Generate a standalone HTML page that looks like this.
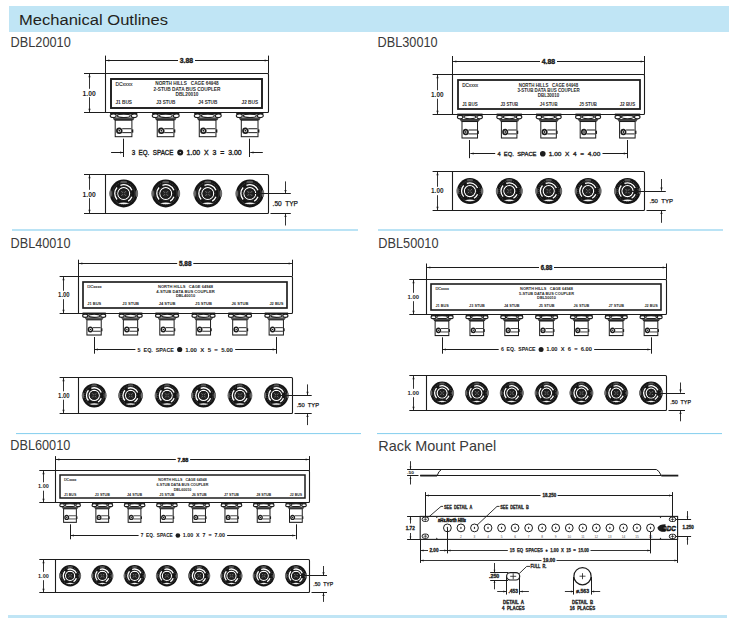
<!DOCTYPE html>
<html><head><meta charset="utf-8"><style>
html,body{margin:0;padding:0;background:#fff;width:732px;height:618px;overflow:hidden;}
svg{display:block;font-family:"Liberation Sans",sans-serif;}
</style></head><body>
<svg width="732" height="618" viewBox="0 0 732 618">
<rect x="9" y="6" width="720" height="26" fill="#c0e5f5"/>
<text xml:space="preserve" x="19.00" y="25.00" font-size="15.40" font-weight="normal" text-anchor="start" fill="#231f20" font-family="Liberation Sans" textLength="149.00" lengthAdjust="spacingAndGlyphs">Mechanical Outlines</text>
<text xml:space="preserve" x="10.60" y="47.00" font-size="14.20" font-weight="normal" text-anchor="start" fill="#3a3a3a" font-family="Liberation Sans" textLength="60.20" lengthAdjust="spacingAndGlyphs">DBL20010</text>
<text xml:space="preserve" x="377.60" y="47.00" font-size="14.20" font-weight="normal" text-anchor="start" fill="#3a3a3a" font-family="Liberation Sans" textLength="60.00" lengthAdjust="spacingAndGlyphs">DBL30010</text>
<text xml:space="preserve" x="10.50" y="248.00" font-size="14.20" font-weight="normal" text-anchor="start" fill="#3a3a3a" font-family="Liberation Sans" textLength="60.00" lengthAdjust="spacingAndGlyphs">DBL40010</text>
<text xml:space="preserve" x="378.30" y="248.00" font-size="14.20" font-weight="normal" text-anchor="start" fill="#3a3a3a" font-family="Liberation Sans" textLength="60.20" lengthAdjust="spacingAndGlyphs">DBL50010</text>
<text xml:space="preserve" x="10.30" y="450.00" font-size="14.20" font-weight="normal" text-anchor="start" fill="#3a3a3a" font-family="Liberation Sans" textLength="60.00" lengthAdjust="spacingAndGlyphs">DBL60010</text>
<text xml:space="preserve" x="378.30" y="450.60" font-size="14.20" font-weight="normal" text-anchor="start" fill="#3a3a3a" font-family="Liberation Sans" textLength="118.00" lengthAdjust="spacingAndGlyphs">Rack Mount Panel</text>
<rect x="12" y="229" width="346" height="2" fill="#bae3f5"/>
<rect x="378" y="229" width="345" height="2" fill="#bae3f5"/>
<rect x="16" y="433" width="345" height="1.1" fill="#8ed2ef"/>
<rect x="377" y="433" width="345" height="1.1" fill="#8ed2ef"/>
<rect x="8" y="615" width="719" height="3" fill="#c0e5f5"/>
<line x1="105.50" y1="55.60" x2="105.50" y2="73.60" stroke="#1c1c1c" stroke-width="1.0"/>
<line x1="268.50" y1="55.60" x2="268.50" y2="73.60" stroke="#1c1c1c" stroke-width="1.0"/>
<line x1="178.00" y1="60.50" x2="106.10" y2="60.50" stroke="#1c1c1c" stroke-width="1.0"/>
<path d="M106.10,60.50 L109.30,59.40 L109.30,61.60 Z" fill="#1c1c1c"/>
<line x1="195.00" y1="60.50" x2="267.90" y2="60.50" stroke="#1c1c1c" stroke-width="1.0"/>
<path d="M267.90,60.50 L264.70,59.40 L264.70,61.60 Z" fill="#1c1c1c"/>
<text xml:space="preserve" x="179.80" y="62.80" font-size="7.54" font-weight="bold" text-anchor="start" fill="#1c1c1c" font-family="Liberation Sans" textLength="13.40" lengthAdjust="spacingAndGlyphs" stroke="#1c1c1c" stroke-width="0.4">3.88</text>
<path d="M105.50,73.50 L267.50,73.50 Q268.50,73.50 268.50,74.50 L268.50,111.50 Q268.50,112.50 267.50,112.50 L105.50,112.50 Z" fill="none" stroke="#1c1c1c" stroke-width="1.1"/>
<line x1="84.00" y1="73.50" x2="105.50" y2="73.50" stroke="#1c1c1c" stroke-width="1.0"/>
<line x1="84.00" y1="112.50" x2="105.50" y2="112.50" stroke="#1c1c1c" stroke-width="1.0"/>
<line x1="89.50" y1="88.80" x2="89.50" y2="74.00" stroke="#1c1c1c" stroke-width="0.9"/>
<path d="M89.50,74.00 L88.40,77.20 L90.60,77.20 Z" fill="#1c1c1c"/>
<line x1="89.50" y1="97.20" x2="89.50" y2="112.00" stroke="#1c1c1c" stroke-width="0.9"/>
<path d="M89.50,112.00 L88.40,108.80 L90.60,108.80 Z" fill="#1c1c1c"/>
<text xml:space="preserve" x="82.60" y="95.55" font-size="7.39" font-weight="bold" text-anchor="start" fill="#1c1c1c" font-family="Liberation Sans" textLength="13.20" lengthAdjust="spacingAndGlyphs">1.00</text>
<rect x="111.00" y="79.00" width="151.00" height="29.00" fill="none" stroke="#1c1c1c" stroke-width="1.90"/>
<text xml:space="preserve" x="155.30" y="85.38" font-size="4.86" font-weight="bold" text-anchor="start" fill="#2a2a2a" font-family="Liberation Sans" textLength="63.40" lengthAdjust="spacingAndGlyphs">NORTH HILLS   CAGE 64948</text>
<text xml:space="preserve" x="153.50" y="90.97" font-size="4.86" font-weight="bold" text-anchor="start" fill="#2a2a2a" font-family="Liberation Sans" textLength="67.00" lengthAdjust="spacingAndGlyphs">2-STUB DATA BUS COUPLER</text>
<text xml:space="preserve" x="175.50" y="96.17" font-size="4.86" font-weight="bold" text-anchor="start" fill="#2a2a2a" font-family="Liberation Sans" textLength="23.00" lengthAdjust="spacingAndGlyphs">DBL20010</text>
<text xml:space="preserve" x="115.40" y="85.67" font-size="4.86" font-weight="normal" text-anchor="start" fill="#1c1c1c" font-family="Liberation Sans" textLength="17.00" lengthAdjust="spacingAndGlyphs" stroke="#1c1c1c" stroke-width="0.12">DCxxxx</text>
<text xml:space="preserve" x="115.40" y="104.38" font-size="4.86" font-weight="bold" text-anchor="start" fill="#2a2a2a" font-family="Liberation Sans" textLength="16.60" lengthAdjust="spacingAndGlyphs">J1 BUS</text>
<text xml:space="preserve" x="156.23" y="104.38" font-size="4.86" font-weight="bold" text-anchor="start" fill="#2a2a2a" font-family="Liberation Sans" textLength="19.00" lengthAdjust="spacingAndGlyphs">J3 STUB</text>
<text xml:space="preserve" x="198.27" y="104.38" font-size="4.86" font-weight="bold" text-anchor="start" fill="#2a2a2a" font-family="Liberation Sans" textLength="19.00" lengthAdjust="spacingAndGlyphs">J4 STUB</text>
<text xml:space="preserve" x="241.50" y="104.38" font-size="4.86" font-weight="bold" text-anchor="start" fill="#2a2a2a" font-family="Liberation Sans" textLength="16.60" lengthAdjust="spacingAndGlyphs">J2 BUS</text>
<g transform="translate(123.70,112.80) scale(1.0000,1.0000)">
<rect x="-13.6" y="-0.5" width="27.2" height="2.2" fill="#1c1c1c"/>
<ellipse cx="-10.5" cy="3.0" rx="3.0" ry="1.75" fill="#fff" stroke="#1c1c1c" stroke-width="1.05"/>
<ellipse cx="0" cy="3.0" rx="6.6" ry="1.7" fill="#fff" stroke="#1c1c1c" stroke-width="1.05"/>
<ellipse cx="10.5" cy="3.0" rx="3.0" ry="1.75" fill="#fff" stroke="#1c1c1c" stroke-width="1.05"/>
<path d="M-11,4.8 L11,4.8 L9.6,7.4 L-9.6,7.4 Z" fill="#222"/>
<path d="M-10.4,6.0 L10.4,6.0" stroke="#8a8a8a" stroke-width="0.6"/>
<rect x="-8.5" y="7.4" width="16.7" height="16.5" fill="#fff" stroke="#1c1c1c" stroke-width="1.00"/>
<line x1="-1.5" y1="15.9" x2="7.6" y2="15.9" stroke="#333" stroke-width="1.1"/>
<line x1="-1.5" y1="19.8" x2="7.6" y2="19.8" stroke="#333" stroke-width="1.1"/>
<rect x="8.2" y="16.6" width="1.4" height="3.2" fill="#1c1c1c"/>
<circle cx="-4.4" cy="17.9" r="2.4" fill="#fff" stroke="#1c1c1c" stroke-width="1.7"/>
<circle cx="-4.4" cy="17.9" r="0.9" fill="#1c1c1c"/>
</g>
<g transform="translate(165.73,112.80) scale(1.0000,1.0000)">
<rect x="-13.6" y="-0.5" width="27.2" height="2.2" fill="#1c1c1c"/>
<ellipse cx="-10.5" cy="3.0" rx="3.0" ry="1.75" fill="#fff" stroke="#1c1c1c" stroke-width="1.05"/>
<ellipse cx="0" cy="3.0" rx="6.6" ry="1.7" fill="#fff" stroke="#1c1c1c" stroke-width="1.05"/>
<ellipse cx="10.5" cy="3.0" rx="3.0" ry="1.75" fill="#fff" stroke="#1c1c1c" stroke-width="1.05"/>
<path d="M-11,4.8 L11,4.8 L9.6,7.4 L-9.6,7.4 Z" fill="#222"/>
<path d="M-10.4,6.0 L10.4,6.0" stroke="#8a8a8a" stroke-width="0.6"/>
<rect x="-8.5" y="7.4" width="16.7" height="16.5" fill="#fff" stroke="#1c1c1c" stroke-width="1.00"/>
<line x1="-1.5" y1="15.9" x2="7.6" y2="15.9" stroke="#333" stroke-width="1.1"/>
<line x1="-1.5" y1="19.8" x2="7.6" y2="19.8" stroke="#333" stroke-width="1.1"/>
<rect x="8.2" y="16.6" width="1.4" height="3.2" fill="#1c1c1c"/>
<circle cx="-4.4" cy="17.9" r="2.4" fill="#fff" stroke="#1c1c1c" stroke-width="1.7"/>
<circle cx="-4.4" cy="17.9" r="0.9" fill="#1c1c1c"/>
</g>
<g transform="translate(207.77,112.80) scale(1.0000,1.0000)">
<rect x="-13.6" y="-0.5" width="27.2" height="2.2" fill="#1c1c1c"/>
<ellipse cx="-10.5" cy="3.0" rx="3.0" ry="1.75" fill="#fff" stroke="#1c1c1c" stroke-width="1.05"/>
<ellipse cx="0" cy="3.0" rx="6.6" ry="1.7" fill="#fff" stroke="#1c1c1c" stroke-width="1.05"/>
<ellipse cx="10.5" cy="3.0" rx="3.0" ry="1.75" fill="#fff" stroke="#1c1c1c" stroke-width="1.05"/>
<path d="M-11,4.8 L11,4.8 L9.6,7.4 L-9.6,7.4 Z" fill="#222"/>
<path d="M-10.4,6.0 L10.4,6.0" stroke="#8a8a8a" stroke-width="0.6"/>
<rect x="-8.5" y="7.4" width="16.7" height="16.5" fill="#fff" stroke="#1c1c1c" stroke-width="1.00"/>
<line x1="-1.5" y1="15.9" x2="7.6" y2="15.9" stroke="#333" stroke-width="1.1"/>
<line x1="-1.5" y1="19.8" x2="7.6" y2="19.8" stroke="#333" stroke-width="1.1"/>
<rect x="8.2" y="16.6" width="1.4" height="3.2" fill="#1c1c1c"/>
<circle cx="-4.4" cy="17.9" r="2.4" fill="#fff" stroke="#1c1c1c" stroke-width="1.7"/>
<circle cx="-4.4" cy="17.9" r="0.9" fill="#1c1c1c"/>
</g>
<g transform="translate(249.80,112.80) scale(1.0000,1.0000)">
<rect x="-13.6" y="-0.5" width="27.2" height="2.2" fill="#1c1c1c"/>
<ellipse cx="-10.5" cy="3.0" rx="3.0" ry="1.75" fill="#fff" stroke="#1c1c1c" stroke-width="1.05"/>
<ellipse cx="0" cy="3.0" rx="6.6" ry="1.7" fill="#fff" stroke="#1c1c1c" stroke-width="1.05"/>
<ellipse cx="10.5" cy="3.0" rx="3.0" ry="1.75" fill="#fff" stroke="#1c1c1c" stroke-width="1.05"/>
<path d="M-11,4.8 L11,4.8 L9.6,7.4 L-9.6,7.4 Z" fill="#222"/>
<path d="M-10.4,6.0 L10.4,6.0" stroke="#8a8a8a" stroke-width="0.6"/>
<rect x="-8.5" y="7.4" width="16.7" height="16.5" fill="#fff" stroke="#1c1c1c" stroke-width="1.00"/>
<line x1="-1.5" y1="15.9" x2="7.6" y2="15.9" stroke="#333" stroke-width="1.1"/>
<line x1="-1.5" y1="19.8" x2="7.6" y2="19.8" stroke="#333" stroke-width="1.1"/>
<rect x="8.2" y="16.6" width="1.4" height="3.2" fill="#1c1c1c"/>
<circle cx="-4.4" cy="17.9" r="2.4" fill="#fff" stroke="#1c1c1c" stroke-width="1.7"/>
<circle cx="-4.4" cy="17.9" r="0.9" fill="#1c1c1c"/>
</g>
<line x1="123.50" y1="138.70" x2="123.50" y2="157.00" stroke="#1c1c1c" stroke-width="1.0"/>
<line x1="249.50" y1="138.70" x2="249.50" y2="157.00" stroke="#1c1c1c" stroke-width="1.0"/>
<line x1="111.10" y1="152.50" x2="123.20" y2="152.50" stroke="#1c1c1c" stroke-width="1.0"/>
<path d="M123.20,152.50 L120.00,151.40 L120.00,153.60 Z" fill="#1c1c1c"/>
<line x1="262.80" y1="152.50" x2="250.30" y2="152.50" stroke="#1c1c1c" stroke-width="1.0"/>
<path d="M250.30,152.50 L253.50,151.40 L253.50,153.60 Z" fill="#1c1c1c"/>
<text xml:space="preserve" x="131.70" y="154.90" font-size="6.67" font-weight="normal" text-anchor="start" fill="#1c1c1c" font-family="Liberation Sans" textLength="41.80" lengthAdjust="spacingAndGlyphs" stroke="#1c1c1c" stroke-width="0.32">3  EQ.  SPACE</text>
<text xml:space="preserve" x="186.59" y="154.90" font-size="6.67" font-weight="normal" text-anchor="start" fill="#1c1c1c" font-family="Liberation Sans" textLength="55.11" lengthAdjust="spacingAndGlyphs" stroke="#1c1c1c" stroke-width="0.32">1.00  X  3  =  3.00</text>
<circle cx="180.21" cy="152.60" r="3.00" fill="#1c1c1c"/>
<circle cx="180.21" cy="152.60" r="0.70" fill="#fff"/>
<path d="M105.50,174.50 L267.50,174.50 Q268.50,174.50 268.50,175.50 L268.50,212.50 Q268.50,213.50 267.50,213.50 L105.50,213.50 Z" fill="none" stroke="#1c1c1c" stroke-width="1.1"/>
<line x1="84.00" y1="174.50" x2="105.50" y2="174.50" stroke="#1c1c1c" stroke-width="1.0"/>
<line x1="84.00" y1="213.50" x2="105.50" y2="213.50" stroke="#1c1c1c" stroke-width="1.0"/>
<line x1="89.50" y1="189.80" x2="89.50" y2="175.00" stroke="#1c1c1c" stroke-width="0.9"/>
<path d="M89.50,175.00 L88.40,178.20 L90.60,178.20 Z" fill="#1c1c1c"/>
<line x1="89.50" y1="198.20" x2="89.50" y2="213.00" stroke="#1c1c1c" stroke-width="0.9"/>
<path d="M89.50,213.00 L88.40,209.80 L90.60,209.80 Z" fill="#1c1c1c"/>
<text xml:space="preserve" x="82.60" y="196.55" font-size="7.39" font-weight="bold" text-anchor="start" fill="#1c1c1c" font-family="Liberation Sans" textLength="13.20" lengthAdjust="spacingAndGlyphs">1.00</text>
<g transform="translate(123.70,193.50) scale(0.9929)">
<circle r="14" fill="#141414"/>
<ellipse cx="-13.2" cy="0" rx="1.3" ry="3.6" fill="#6a6a6a"/>
<ellipse cx="13.2" cy="0" rx="1.3" ry="3.6" fill="#6a6a6a"/>
<ellipse cx="0" cy="-11.6" rx="3.4" ry="1.3" fill="#555"/>
<circle r="11.2" fill="none" stroke="#5c5c5c" stroke-width="0.81" stroke-dasharray="1.01,1.11"/>
<circle r="7.3" fill="none" stroke="#4a4a4a" stroke-width="0.60" stroke-dasharray="0.91,1.21"/>
<path d="M-6.69,6.02 A9.0,9.0 0 0,1 -6.69,-6.02" stroke="#fff" stroke-width="1.31" fill="none"/>
<path d="M-3.33,-8.25 A8.9,8.9 0 0,1 8.25,-3.33" stroke="#fff" stroke-width="1.31" fill="none"/>
<path d="M8.25,3.33 A8.9,8.9 0 0,1 4.45,7.71" stroke="#fff" stroke-width="1.31" fill="none"/>
<path d="M-5.6,9.9 Q0,8.3 5.6,9.9 Q0,11.9 -5.6,9.9 Z" fill="#f4f4f4"/>
<circle r="5.9" fill="none" stroke="#fff" stroke-width="1.21"/>
<circle r="5.30" fill="#1c1c1c"/>
<circle r="3.2" fill="#262626"/>
<path d="M-2.4,-2.4 L2.4,2.4 M2.4,-2.4 L-2.4,2.4" stroke="#8a8a8a" stroke-width="0.71"/>
<circle r="1.0" fill="#222"/>
</g>
<g transform="translate(165.73,193.50) scale(0.9929)">
<circle r="14" fill="#141414"/>
<ellipse cx="-13.2" cy="0" rx="1.3" ry="3.6" fill="#6a6a6a"/>
<ellipse cx="13.2" cy="0" rx="1.3" ry="3.6" fill="#6a6a6a"/>
<ellipse cx="0" cy="-11.6" rx="3.4" ry="1.3" fill="#555"/>
<circle r="11.2" fill="none" stroke="#5c5c5c" stroke-width="0.81" stroke-dasharray="1.01,1.11"/>
<circle r="7.3" fill="none" stroke="#4a4a4a" stroke-width="0.60" stroke-dasharray="0.91,1.21"/>
<path d="M-6.69,6.02 A9.0,9.0 0 0,1 -6.69,-6.02" stroke="#fff" stroke-width="1.31" fill="none"/>
<path d="M-3.33,-8.25 A8.9,8.9 0 0,1 8.25,-3.33" stroke="#fff" stroke-width="1.31" fill="none"/>
<path d="M8.25,3.33 A8.9,8.9 0 0,1 4.45,7.71" stroke="#fff" stroke-width="1.31" fill="none"/>
<path d="M-5.6,9.9 Q0,8.3 5.6,9.9 Q0,11.9 -5.6,9.9 Z" fill="#f4f4f4"/>
<circle r="5.9" fill="none" stroke="#fff" stroke-width="1.21"/>
<circle r="5.30" fill="#1c1c1c"/>
<circle r="3.2" fill="#262626"/>
<path d="M-2.4,-2.4 L2.4,2.4 M2.4,-2.4 L-2.4,2.4" stroke="#8a8a8a" stroke-width="0.71"/>
<circle r="1.0" fill="#222"/>
</g>
<g transform="translate(207.77,193.50) scale(0.9929)">
<circle r="14" fill="#141414"/>
<ellipse cx="-13.2" cy="0" rx="1.3" ry="3.6" fill="#6a6a6a"/>
<ellipse cx="13.2" cy="0" rx="1.3" ry="3.6" fill="#6a6a6a"/>
<ellipse cx="0" cy="-11.6" rx="3.4" ry="1.3" fill="#555"/>
<circle r="11.2" fill="none" stroke="#5c5c5c" stroke-width="0.81" stroke-dasharray="1.01,1.11"/>
<circle r="7.3" fill="none" stroke="#4a4a4a" stroke-width="0.60" stroke-dasharray="0.91,1.21"/>
<path d="M-6.69,6.02 A9.0,9.0 0 0,1 -6.69,-6.02" stroke="#fff" stroke-width="1.31" fill="none"/>
<path d="M-3.33,-8.25 A8.9,8.9 0 0,1 8.25,-3.33" stroke="#fff" stroke-width="1.31" fill="none"/>
<path d="M8.25,3.33 A8.9,8.9 0 0,1 4.45,7.71" stroke="#fff" stroke-width="1.31" fill="none"/>
<path d="M-5.6,9.9 Q0,8.3 5.6,9.9 Q0,11.9 -5.6,9.9 Z" fill="#f4f4f4"/>
<circle r="5.9" fill="none" stroke="#fff" stroke-width="1.21"/>
<circle r="5.30" fill="#1c1c1c"/>
<circle r="3.2" fill="#262626"/>
<path d="M-2.4,-2.4 L2.4,2.4 M2.4,-2.4 L-2.4,2.4" stroke="#8a8a8a" stroke-width="0.71"/>
<circle r="1.0" fill="#222"/>
</g>
<g transform="translate(249.80,193.50) scale(0.9929)">
<circle r="14" fill="#141414"/>
<ellipse cx="-13.2" cy="0" rx="1.3" ry="3.6" fill="#6a6a6a"/>
<ellipse cx="13.2" cy="0" rx="1.3" ry="3.6" fill="#6a6a6a"/>
<ellipse cx="0" cy="-11.6" rx="3.4" ry="1.3" fill="#555"/>
<circle r="11.2" fill="none" stroke="#5c5c5c" stroke-width="0.81" stroke-dasharray="1.01,1.11"/>
<circle r="7.3" fill="none" stroke="#4a4a4a" stroke-width="0.60" stroke-dasharray="0.91,1.21"/>
<path d="M-6.69,6.02 A9.0,9.0 0 0,1 -6.69,-6.02" stroke="#fff" stroke-width="1.31" fill="none"/>
<path d="M-3.33,-8.25 A8.9,8.9 0 0,1 8.25,-3.33" stroke="#fff" stroke-width="1.31" fill="none"/>
<path d="M8.25,3.33 A8.9,8.9 0 0,1 4.45,7.71" stroke="#fff" stroke-width="1.31" fill="none"/>
<path d="M-5.6,9.9 Q0,8.3 5.6,9.9 Q0,11.9 -5.6,9.9 Z" fill="#f4f4f4"/>
<circle r="5.9" fill="none" stroke="#fff" stroke-width="1.21"/>
<circle r="5.30" fill="#1c1c1c"/>
<circle r="3.2" fill="#262626"/>
<path d="M-2.4,-2.4 L2.4,2.4 M2.4,-2.4 L-2.4,2.4" stroke="#8a8a8a" stroke-width="0.71"/>
<circle r="1.0" fill="#222"/>
</g>
<line x1="249.80" y1="193.50" x2="290.80" y2="193.50" stroke="#1c1c1c" stroke-width="1.0"/>
<line x1="270.50" y1="213.50" x2="290.80" y2="213.50" stroke="#1c1c1c" stroke-width="1.0"/>
<line x1="285.50" y1="181.40" x2="285.50" y2="193.10" stroke="#1c1c1c" stroke-width="0.9"/>
<path d="M285.50,193.10 L284.40,189.90 L286.60,189.90 Z" fill="#1c1c1c"/>
<line x1="285.50" y1="225.50" x2="285.50" y2="213.90" stroke="#1c1c1c" stroke-width="0.9"/>
<path d="M285.50,213.90 L284.40,217.10 L286.60,217.10 Z" fill="#1c1c1c"/>
<text xml:space="preserve" x="272.60" y="205.95" font-size="6.52" font-weight="normal" text-anchor="start" fill="#1c1c1c" font-family="Liberation Sans" textLength="25.40" lengthAdjust="spacingAndGlyphs" stroke="#1c1c1c" stroke-width="0.25">.50  TYP</text>
<line x1="452.50" y1="56.00" x2="452.50" y2="74.90" stroke="#1c1c1c" stroke-width="1.0"/>
<line x1="644.50" y1="56.00" x2="644.50" y2="74.90" stroke="#1c1c1c" stroke-width="1.0"/>
<line x1="540.00" y1="61.50" x2="453.10" y2="61.50" stroke="#1c1c1c" stroke-width="1.0"/>
<path d="M453.10,61.50 L456.30,60.40 L456.30,62.60 Z" fill="#1c1c1c"/>
<line x1="557.00" y1="61.50" x2="643.90" y2="61.50" stroke="#1c1c1c" stroke-width="1.0"/>
<path d="M643.90,61.50 L640.70,60.40 L640.70,62.60 Z" fill="#1c1c1c"/>
<text xml:space="preserve" x="541.80" y="63.64" font-size="7.07" font-weight="bold" text-anchor="start" fill="#1c1c1c" font-family="Liberation Sans" textLength="13.40" lengthAdjust="spacingAndGlyphs" stroke="#1c1c1c" stroke-width="0.4">4.88</text>
<path d="M452.50,74.50 L643.50,74.50 Q644.50,74.50 644.50,75.50 L644.50,113.50 Q644.50,114.50 643.50,114.50 L452.50,114.50 Z" fill="none" stroke="#1c1c1c" stroke-width="1.1"/>
<line x1="432.60" y1="74.50" x2="452.50" y2="74.50" stroke="#1c1c1c" stroke-width="1.0"/>
<line x1="432.60" y1="114.50" x2="452.50" y2="114.50" stroke="#1c1c1c" stroke-width="1.0"/>
<line x1="437.50" y1="90.30" x2="437.50" y2="75.00" stroke="#1c1c1c" stroke-width="0.9"/>
<path d="M437.50,75.00 L436.40,78.20 L438.60,78.20 Z" fill="#1c1c1c"/>
<line x1="437.50" y1="98.70" x2="437.50" y2="114.00" stroke="#1c1c1c" stroke-width="0.9"/>
<path d="M437.50,114.00 L436.40,110.80 L438.60,110.80 Z" fill="#1c1c1c"/>
<text xml:space="preserve" x="431.05" y="96.88" font-size="6.88" font-weight="bold" text-anchor="start" fill="#1c1c1c" font-family="Liberation Sans" textLength="12.50" lengthAdjust="spacingAndGlyphs">1.00</text>
<rect x="458.00" y="80.00" width="182.00" height="29.00" fill="none" stroke="#1c1c1c" stroke-width="1.78"/>
<text xml:space="preserve" x="518.75" y="86.77" font-size="4.55" font-weight="bold" text-anchor="start" fill="#2a2a2a" font-family="Liberation Sans" textLength="59.50" lengthAdjust="spacingAndGlyphs">NORTH HILLS   CAGE 64948</text>
<text xml:space="preserve" x="517.40" y="91.87" font-size="4.55" font-weight="bold" text-anchor="start" fill="#2a2a2a" font-family="Liberation Sans" textLength="62.20" lengthAdjust="spacingAndGlyphs">3-STUB DATA BUS COUPLER</text>
<text xml:space="preserve" x="537.80" y="97.37" font-size="4.55" font-weight="bold" text-anchor="start" fill="#2a2a2a" font-family="Liberation Sans" textLength="21.40" lengthAdjust="spacingAndGlyphs">DBL30010</text>
<text xml:space="preserve" x="462.15" y="86.97" font-size="4.55" font-weight="normal" text-anchor="start" fill="#1c1c1c" font-family="Liberation Sans" textLength="16.00" lengthAdjust="spacingAndGlyphs" stroke="#1c1c1c" stroke-width="0.12">DCxxxx</text>
<text xml:space="preserve" x="462.15" y="105.57" font-size="4.55" font-weight="bold" text-anchor="start" fill="#2a2a2a" font-family="Liberation Sans" textLength="15.50" lengthAdjust="spacingAndGlyphs">J1 BUS</text>
<text xml:space="preserve" x="500.45" y="105.57" font-size="4.55" font-weight="bold" text-anchor="start" fill="#2a2a2a" font-family="Liberation Sans" textLength="17.70" lengthAdjust="spacingAndGlyphs">J3 STUB</text>
<text xml:space="preserve" x="539.85" y="105.57" font-size="4.55" font-weight="bold" text-anchor="start" fill="#2a2a2a" font-family="Liberation Sans" textLength="17.70" lengthAdjust="spacingAndGlyphs">J4 STUB</text>
<text xml:space="preserve" x="579.25" y="105.57" font-size="4.55" font-weight="bold" text-anchor="start" fill="#2a2a2a" font-family="Liberation Sans" textLength="17.70" lengthAdjust="spacingAndGlyphs">J5 STUB</text>
<text xml:space="preserve" x="619.75" y="105.57" font-size="4.55" font-weight="bold" text-anchor="start" fill="#2a2a2a" font-family="Liberation Sans" textLength="15.50" lengthAdjust="spacingAndGlyphs">J2 BUS</text>
<g transform="translate(469.90,114.10) scale(0.9300,0.9998)">
<rect x="-13.6" y="-0.5" width="27.2" height="2.2" fill="#1c1c1c"/>
<ellipse cx="-10.5" cy="3.0" rx="3.0" ry="1.75" fill="#fff" stroke="#1c1c1c" stroke-width="1.13"/>
<ellipse cx="0" cy="3.0" rx="6.6" ry="1.7" fill="#fff" stroke="#1c1c1c" stroke-width="1.13"/>
<ellipse cx="10.5" cy="3.0" rx="3.0" ry="1.75" fill="#fff" stroke="#1c1c1c" stroke-width="1.13"/>
<path d="M-11,4.8 L11,4.8 L9.6,7.4 L-9.6,7.4 Z" fill="#222"/>
<path d="M-10.4,6.0 L10.4,6.0" stroke="#8a8a8a" stroke-width="0.6"/>
<rect x="-8.5" y="7.4" width="16.7" height="16.5" fill="#fff" stroke="#1c1c1c" stroke-width="1.08"/>
<line x1="-1.5" y1="15.9" x2="7.6" y2="15.9" stroke="#333" stroke-width="1.1"/>
<line x1="-1.5" y1="19.8" x2="7.6" y2="19.8" stroke="#333" stroke-width="1.1"/>
<rect x="8.2" y="16.6" width="1.4" height="3.2" fill="#1c1c1c"/>
<circle cx="-4.4" cy="17.9" r="2.4" fill="#fff" stroke="#1c1c1c" stroke-width="1.7"/>
<circle cx="-4.4" cy="17.9" r="0.9" fill="#1c1c1c"/>
</g>
<g transform="translate(509.30,114.10) scale(0.9300,0.9998)">
<rect x="-13.6" y="-0.5" width="27.2" height="2.2" fill="#1c1c1c"/>
<ellipse cx="-10.5" cy="3.0" rx="3.0" ry="1.75" fill="#fff" stroke="#1c1c1c" stroke-width="1.13"/>
<ellipse cx="0" cy="3.0" rx="6.6" ry="1.7" fill="#fff" stroke="#1c1c1c" stroke-width="1.13"/>
<ellipse cx="10.5" cy="3.0" rx="3.0" ry="1.75" fill="#fff" stroke="#1c1c1c" stroke-width="1.13"/>
<path d="M-11,4.8 L11,4.8 L9.6,7.4 L-9.6,7.4 Z" fill="#222"/>
<path d="M-10.4,6.0 L10.4,6.0" stroke="#8a8a8a" stroke-width="0.6"/>
<rect x="-8.5" y="7.4" width="16.7" height="16.5" fill="#fff" stroke="#1c1c1c" stroke-width="1.08"/>
<line x1="-1.5" y1="15.9" x2="7.6" y2="15.9" stroke="#333" stroke-width="1.1"/>
<line x1="-1.5" y1="19.8" x2="7.6" y2="19.8" stroke="#333" stroke-width="1.1"/>
<rect x="8.2" y="16.6" width="1.4" height="3.2" fill="#1c1c1c"/>
<circle cx="-4.4" cy="17.9" r="2.4" fill="#fff" stroke="#1c1c1c" stroke-width="1.7"/>
<circle cx="-4.4" cy="17.9" r="0.9" fill="#1c1c1c"/>
</g>
<g transform="translate(548.70,114.10) scale(0.9300,0.9998)">
<rect x="-13.6" y="-0.5" width="27.2" height="2.2" fill="#1c1c1c"/>
<ellipse cx="-10.5" cy="3.0" rx="3.0" ry="1.75" fill="#fff" stroke="#1c1c1c" stroke-width="1.13"/>
<ellipse cx="0" cy="3.0" rx="6.6" ry="1.7" fill="#fff" stroke="#1c1c1c" stroke-width="1.13"/>
<ellipse cx="10.5" cy="3.0" rx="3.0" ry="1.75" fill="#fff" stroke="#1c1c1c" stroke-width="1.13"/>
<path d="M-11,4.8 L11,4.8 L9.6,7.4 L-9.6,7.4 Z" fill="#222"/>
<path d="M-10.4,6.0 L10.4,6.0" stroke="#8a8a8a" stroke-width="0.6"/>
<rect x="-8.5" y="7.4" width="16.7" height="16.5" fill="#fff" stroke="#1c1c1c" stroke-width="1.08"/>
<line x1="-1.5" y1="15.9" x2="7.6" y2="15.9" stroke="#333" stroke-width="1.1"/>
<line x1="-1.5" y1="19.8" x2="7.6" y2="19.8" stroke="#333" stroke-width="1.1"/>
<rect x="8.2" y="16.6" width="1.4" height="3.2" fill="#1c1c1c"/>
<circle cx="-4.4" cy="17.9" r="2.4" fill="#fff" stroke="#1c1c1c" stroke-width="1.7"/>
<circle cx="-4.4" cy="17.9" r="0.9" fill="#1c1c1c"/>
</g>
<g transform="translate(588.10,114.10) scale(0.9300,0.9998)">
<rect x="-13.6" y="-0.5" width="27.2" height="2.2" fill="#1c1c1c"/>
<ellipse cx="-10.5" cy="3.0" rx="3.0" ry="1.75" fill="#fff" stroke="#1c1c1c" stroke-width="1.13"/>
<ellipse cx="0" cy="3.0" rx="6.6" ry="1.7" fill="#fff" stroke="#1c1c1c" stroke-width="1.13"/>
<ellipse cx="10.5" cy="3.0" rx="3.0" ry="1.75" fill="#fff" stroke="#1c1c1c" stroke-width="1.13"/>
<path d="M-11,4.8 L11,4.8 L9.6,7.4 L-9.6,7.4 Z" fill="#222"/>
<path d="M-10.4,6.0 L10.4,6.0" stroke="#8a8a8a" stroke-width="0.6"/>
<rect x="-8.5" y="7.4" width="16.7" height="16.5" fill="#fff" stroke="#1c1c1c" stroke-width="1.08"/>
<line x1="-1.5" y1="15.9" x2="7.6" y2="15.9" stroke="#333" stroke-width="1.1"/>
<line x1="-1.5" y1="19.8" x2="7.6" y2="19.8" stroke="#333" stroke-width="1.1"/>
<rect x="8.2" y="16.6" width="1.4" height="3.2" fill="#1c1c1c"/>
<circle cx="-4.4" cy="17.9" r="2.4" fill="#fff" stroke="#1c1c1c" stroke-width="1.7"/>
<circle cx="-4.4" cy="17.9" r="0.9" fill="#1c1c1c"/>
</g>
<g transform="translate(627.50,114.10) scale(0.9300,0.9998)">
<rect x="-13.6" y="-0.5" width="27.2" height="2.2" fill="#1c1c1c"/>
<ellipse cx="-10.5" cy="3.0" rx="3.0" ry="1.75" fill="#fff" stroke="#1c1c1c" stroke-width="1.13"/>
<ellipse cx="0" cy="3.0" rx="6.6" ry="1.7" fill="#fff" stroke="#1c1c1c" stroke-width="1.13"/>
<ellipse cx="10.5" cy="3.0" rx="3.0" ry="1.75" fill="#fff" stroke="#1c1c1c" stroke-width="1.13"/>
<path d="M-11,4.8 L11,4.8 L9.6,7.4 L-9.6,7.4 Z" fill="#222"/>
<path d="M-10.4,6.0 L10.4,6.0" stroke="#8a8a8a" stroke-width="0.6"/>
<rect x="-8.5" y="7.4" width="16.7" height="16.5" fill="#fff" stroke="#1c1c1c" stroke-width="1.08"/>
<line x1="-1.5" y1="15.9" x2="7.6" y2="15.9" stroke="#333" stroke-width="1.1"/>
<line x1="-1.5" y1="19.8" x2="7.6" y2="19.8" stroke="#333" stroke-width="1.1"/>
<rect x="8.2" y="16.6" width="1.4" height="3.2" fill="#1c1c1c"/>
<circle cx="-4.4" cy="17.9" r="2.4" fill="#fff" stroke="#1c1c1c" stroke-width="1.7"/>
<circle cx="-4.4" cy="17.9" r="0.9" fill="#1c1c1c"/>
</g>
<line x1="469.50" y1="140.00" x2="469.50" y2="158.20" stroke="#1c1c1c" stroke-width="1.0"/>
<line x1="627.50" y1="140.00" x2="627.50" y2="158.20" stroke="#1c1c1c" stroke-width="1.0"/>
<line x1="495.20" y1="153.50" x2="470.40" y2="153.50" stroke="#1c1c1c" stroke-width="1.0"/>
<path d="M470.40,153.50 L473.60,152.40 L473.60,154.60 Z" fill="#1c1c1c"/>
<line x1="602.50" y1="153.50" x2="627.00" y2="153.50" stroke="#1c1c1c" stroke-width="1.0"/>
<path d="M627.00,153.50 L623.80,152.40 L623.80,154.60 Z" fill="#1c1c1c"/>
<text xml:space="preserve" x="497.40" y="155.86" font-size="6.26" font-weight="normal" text-anchor="start" fill="#1c1c1c" font-family="Liberation Sans" textLength="39.10" lengthAdjust="spacingAndGlyphs" stroke="#1c1c1c" stroke-width="0.32">4  EQ.  SPACE</text>
<text xml:space="preserve" x="548.75" y="155.86" font-size="6.26" font-weight="normal" text-anchor="start" fill="#1c1c1c" font-family="Liberation Sans" textLength="51.55" lengthAdjust="spacingAndGlyphs" stroke="#1c1c1c" stroke-width="0.32">1.00  X  4  =  4.00</text>
<circle cx="542.78" cy="153.70" r="2.80" fill="#1c1c1c"/>
<path d="M452.50,171.50 L643.50,171.50 Q644.50,171.50 644.50,172.50 L644.50,209.50 Q644.50,210.50 643.50,210.50 L452.50,210.50 Z" fill="none" stroke="#1c1c1c" stroke-width="1.1"/>
<line x1="432.60" y1="171.50" x2="452.50" y2="171.50" stroke="#1c1c1c" stroke-width="1.0"/>
<line x1="432.60" y1="210.50" x2="452.50" y2="210.50" stroke="#1c1c1c" stroke-width="1.0"/>
<line x1="437.50" y1="186.80" x2="437.50" y2="172.00" stroke="#1c1c1c" stroke-width="0.9"/>
<path d="M437.50,172.00 L436.40,175.20 L438.60,175.20 Z" fill="#1c1c1c"/>
<line x1="437.50" y1="195.20" x2="437.50" y2="210.00" stroke="#1c1c1c" stroke-width="0.9"/>
<path d="M437.50,210.00 L436.40,206.80 L438.60,206.80 Z" fill="#1c1c1c"/>
<text xml:space="preserve" x="431.05" y="193.38" font-size="6.88" font-weight="bold" text-anchor="start" fill="#1c1c1c" font-family="Liberation Sans" textLength="12.50" lengthAdjust="spacingAndGlyphs">1.00</text>
<g transform="translate(469.90,191.10) scale(0.9286)">
<circle r="14" fill="#141414"/>
<ellipse cx="-13.2" cy="0" rx="1.3" ry="3.6" fill="#6a6a6a"/>
<ellipse cx="13.2" cy="0" rx="1.3" ry="3.6" fill="#6a6a6a"/>
<ellipse cx="0" cy="-11.6" rx="3.4" ry="1.3" fill="#555"/>
<circle r="11.2" fill="none" stroke="#5c5c5c" stroke-width="0.86" stroke-dasharray="1.08,1.18"/>
<circle r="7.3" fill="none" stroke="#4a4a4a" stroke-width="0.65" stroke-dasharray="0.97,1.29"/>
<path d="M-6.69,6.02 A9.0,9.0 0 0,1 -6.69,-6.02" stroke="#fff" stroke-width="1.40" fill="none"/>
<path d="M-3.33,-8.25 A8.9,8.9 0 0,1 8.25,-3.33" stroke="#fff" stroke-width="1.40" fill="none"/>
<path d="M8.25,3.33 A8.9,8.9 0 0,1 4.45,7.71" stroke="#fff" stroke-width="1.40" fill="none"/>
<path d="M-5.6,9.9 Q0,8.3 5.6,9.9 Q0,11.9 -5.6,9.9 Z" fill="#f4f4f4"/>
<circle r="5.9" fill="none" stroke="#fff" stroke-width="1.29"/>
<circle r="5.25" fill="#1c1c1c"/>
<circle r="3.2" fill="#262626"/>
<path d="M-2.4,-2.4 L2.4,2.4 M2.4,-2.4 L-2.4,2.4" stroke="#8a8a8a" stroke-width="0.75"/>
<circle r="1.0" fill="#222"/>
</g>
<g transform="translate(509.30,191.10) scale(0.9286)">
<circle r="14" fill="#141414"/>
<ellipse cx="-13.2" cy="0" rx="1.3" ry="3.6" fill="#6a6a6a"/>
<ellipse cx="13.2" cy="0" rx="1.3" ry="3.6" fill="#6a6a6a"/>
<ellipse cx="0" cy="-11.6" rx="3.4" ry="1.3" fill="#555"/>
<circle r="11.2" fill="none" stroke="#5c5c5c" stroke-width="0.86" stroke-dasharray="1.08,1.18"/>
<circle r="7.3" fill="none" stroke="#4a4a4a" stroke-width="0.65" stroke-dasharray="0.97,1.29"/>
<path d="M-6.69,6.02 A9.0,9.0 0 0,1 -6.69,-6.02" stroke="#fff" stroke-width="1.40" fill="none"/>
<path d="M-3.33,-8.25 A8.9,8.9 0 0,1 8.25,-3.33" stroke="#fff" stroke-width="1.40" fill="none"/>
<path d="M8.25,3.33 A8.9,8.9 0 0,1 4.45,7.71" stroke="#fff" stroke-width="1.40" fill="none"/>
<path d="M-5.6,9.9 Q0,8.3 5.6,9.9 Q0,11.9 -5.6,9.9 Z" fill="#f4f4f4"/>
<circle r="5.9" fill="none" stroke="#fff" stroke-width="1.29"/>
<circle r="5.25" fill="#1c1c1c"/>
<circle r="3.2" fill="#262626"/>
<path d="M-2.4,-2.4 L2.4,2.4 M2.4,-2.4 L-2.4,2.4" stroke="#8a8a8a" stroke-width="0.75"/>
<circle r="1.0" fill="#222"/>
</g>
<g transform="translate(548.70,191.10) scale(0.9286)">
<circle r="14" fill="#141414"/>
<ellipse cx="-13.2" cy="0" rx="1.3" ry="3.6" fill="#6a6a6a"/>
<ellipse cx="13.2" cy="0" rx="1.3" ry="3.6" fill="#6a6a6a"/>
<ellipse cx="0" cy="-11.6" rx="3.4" ry="1.3" fill="#555"/>
<circle r="11.2" fill="none" stroke="#5c5c5c" stroke-width="0.86" stroke-dasharray="1.08,1.18"/>
<circle r="7.3" fill="none" stroke="#4a4a4a" stroke-width="0.65" stroke-dasharray="0.97,1.29"/>
<path d="M-6.69,6.02 A9.0,9.0 0 0,1 -6.69,-6.02" stroke="#fff" stroke-width="1.40" fill="none"/>
<path d="M-3.33,-8.25 A8.9,8.9 0 0,1 8.25,-3.33" stroke="#fff" stroke-width="1.40" fill="none"/>
<path d="M8.25,3.33 A8.9,8.9 0 0,1 4.45,7.71" stroke="#fff" stroke-width="1.40" fill="none"/>
<path d="M-5.6,9.9 Q0,8.3 5.6,9.9 Q0,11.9 -5.6,9.9 Z" fill="#f4f4f4"/>
<circle r="5.9" fill="none" stroke="#fff" stroke-width="1.29"/>
<circle r="5.25" fill="#1c1c1c"/>
<circle r="3.2" fill="#262626"/>
<path d="M-2.4,-2.4 L2.4,2.4 M2.4,-2.4 L-2.4,2.4" stroke="#8a8a8a" stroke-width="0.75"/>
<circle r="1.0" fill="#222"/>
</g>
<g transform="translate(588.10,191.10) scale(0.9286)">
<circle r="14" fill="#141414"/>
<ellipse cx="-13.2" cy="0" rx="1.3" ry="3.6" fill="#6a6a6a"/>
<ellipse cx="13.2" cy="0" rx="1.3" ry="3.6" fill="#6a6a6a"/>
<ellipse cx="0" cy="-11.6" rx="3.4" ry="1.3" fill="#555"/>
<circle r="11.2" fill="none" stroke="#5c5c5c" stroke-width="0.86" stroke-dasharray="1.08,1.18"/>
<circle r="7.3" fill="none" stroke="#4a4a4a" stroke-width="0.65" stroke-dasharray="0.97,1.29"/>
<path d="M-6.69,6.02 A9.0,9.0 0 0,1 -6.69,-6.02" stroke="#fff" stroke-width="1.40" fill="none"/>
<path d="M-3.33,-8.25 A8.9,8.9 0 0,1 8.25,-3.33" stroke="#fff" stroke-width="1.40" fill="none"/>
<path d="M8.25,3.33 A8.9,8.9 0 0,1 4.45,7.71" stroke="#fff" stroke-width="1.40" fill="none"/>
<path d="M-5.6,9.9 Q0,8.3 5.6,9.9 Q0,11.9 -5.6,9.9 Z" fill="#f4f4f4"/>
<circle r="5.9" fill="none" stroke="#fff" stroke-width="1.29"/>
<circle r="5.25" fill="#1c1c1c"/>
<circle r="3.2" fill="#262626"/>
<path d="M-2.4,-2.4 L2.4,2.4 M2.4,-2.4 L-2.4,2.4" stroke="#8a8a8a" stroke-width="0.75"/>
<circle r="1.0" fill="#222"/>
</g>
<g transform="translate(627.50,191.10) scale(0.9286)">
<circle r="14" fill="#141414"/>
<ellipse cx="-13.2" cy="0" rx="1.3" ry="3.6" fill="#6a6a6a"/>
<ellipse cx="13.2" cy="0" rx="1.3" ry="3.6" fill="#6a6a6a"/>
<ellipse cx="0" cy="-11.6" rx="3.4" ry="1.3" fill="#555"/>
<circle r="11.2" fill="none" stroke="#5c5c5c" stroke-width="0.86" stroke-dasharray="1.08,1.18"/>
<circle r="7.3" fill="none" stroke="#4a4a4a" stroke-width="0.65" stroke-dasharray="0.97,1.29"/>
<path d="M-6.69,6.02 A9.0,9.0 0 0,1 -6.69,-6.02" stroke="#fff" stroke-width="1.40" fill="none"/>
<path d="M-3.33,-8.25 A8.9,8.9 0 0,1 8.25,-3.33" stroke="#fff" stroke-width="1.40" fill="none"/>
<path d="M8.25,3.33 A8.9,8.9 0 0,1 4.45,7.71" stroke="#fff" stroke-width="1.40" fill="none"/>
<path d="M-5.6,9.9 Q0,8.3 5.6,9.9 Q0,11.9 -5.6,9.9 Z" fill="#f4f4f4"/>
<circle r="5.9" fill="none" stroke="#fff" stroke-width="1.29"/>
<circle r="5.25" fill="#1c1c1c"/>
<circle r="3.2" fill="#262626"/>
<path d="M-2.4,-2.4 L2.4,2.4 M2.4,-2.4 L-2.4,2.4" stroke="#8a8a8a" stroke-width="0.75"/>
<circle r="1.0" fill="#222"/>
</g>
<line x1="627.50" y1="191.50" x2="665.80" y2="191.50" stroke="#1c1c1c" stroke-width="1.0"/>
<line x1="646.50" y1="210.50" x2="665.80" y2="210.50" stroke="#1c1c1c" stroke-width="1.0"/>
<line x1="661.50" y1="179.00" x2="661.50" y2="190.70" stroke="#1c1c1c" stroke-width="0.9"/>
<path d="M661.50,190.70 L660.40,187.50 L662.60,187.50 Z" fill="#1c1c1c"/>
<line x1="661.50" y1="222.80" x2="661.50" y2="210.90" stroke="#1c1c1c" stroke-width="0.9"/>
<path d="M661.50,210.90 L660.40,214.10 L662.60,214.10 Z" fill="#1c1c1c"/>
<text xml:space="preserve" x="649.50" y="203.12" font-size="6.16" font-weight="normal" text-anchor="start" fill="#1c1c1c" font-family="Liberation Sans" textLength="23.50" lengthAdjust="spacingAndGlyphs" stroke="#1c1c1c" stroke-width="0.25">.50  TYP</text>
<line x1="78.50" y1="259.70" x2="78.50" y2="276.50" stroke="#1c1c1c" stroke-width="1.0"/>
<line x1="292.50" y1="259.70" x2="292.50" y2="276.50" stroke="#1c1c1c" stroke-width="1.0"/>
<line x1="177.20" y1="263.50" x2="79.10" y2="263.50" stroke="#1c1c1c" stroke-width="1.0"/>
<path d="M79.10,263.50 L82.30,262.40 L82.30,264.60 Z" fill="#1c1c1c"/>
<line x1="193.30" y1="263.50" x2="291.90" y2="263.50" stroke="#1c1c1c" stroke-width="1.0"/>
<path d="M291.90,263.50 L288.70,262.40 L288.70,264.60 Z" fill="#1c1c1c"/>
<text xml:space="preserve" x="179.00" y="266.17" font-size="6.58" font-weight="bold" text-anchor="start" fill="#1c1c1c" font-family="Liberation Sans" textLength="12.50" lengthAdjust="spacingAndGlyphs" stroke="#1c1c1c" stroke-width="0.4">5.88</text>
<path d="M78.50,276.50 L291.50,276.50 Q292.50,276.50 292.50,277.50 L292.50,312.50 Q292.50,313.50 291.50,313.50 L78.50,313.50 Z" fill="none" stroke="#1c1c1c" stroke-width="1.1"/>
<line x1="59.60" y1="276.50" x2="78.50" y2="276.50" stroke="#1c1c1c" stroke-width="1.0"/>
<line x1="59.60" y1="313.50" x2="78.50" y2="313.50" stroke="#1c1c1c" stroke-width="1.0"/>
<line x1="63.50" y1="290.80" x2="63.50" y2="277.00" stroke="#1c1c1c" stroke-width="0.9"/>
<path d="M63.50,277.00 L62.40,280.20 L64.60,280.20 Z" fill="#1c1c1c"/>
<line x1="63.50" y1="299.20" x2="63.50" y2="313.00" stroke="#1c1c1c" stroke-width="0.9"/>
<path d="M63.50,313.00 L62.40,309.80 L64.60,309.80 Z" fill="#1c1c1c"/>
<text xml:space="preserve" x="58.10" y="297.19" font-size="6.36" font-weight="bold" text-anchor="start" fill="#1c1c1c" font-family="Liberation Sans" textLength="11.60" lengthAdjust="spacingAndGlyphs">1.00</text>
<rect x="83.00" y="282.00" width="204.00" height="26.00" fill="none" stroke="#1c1c1c" stroke-width="1.66"/>
<text xml:space="preserve" x="158.00" y="287.56" font-size="4.23" font-weight="bold" text-anchor="start" fill="#2a2a2a" font-family="Liberation Sans" textLength="55.00" lengthAdjust="spacingAndGlyphs">NORTH HILLS   CAGE 64948</text>
<text xml:space="preserve" x="156.30" y="292.66" font-size="4.23" font-weight="bold" text-anchor="start" fill="#2a2a2a" font-family="Liberation Sans" textLength="58.40" lengthAdjust="spacingAndGlyphs">4-STUB DATA BUS COUPLER</text>
<text xml:space="preserve" x="175.90" y="297.46" font-size="4.23" font-weight="bold" text-anchor="start" fill="#2a2a2a" font-family="Liberation Sans" textLength="19.20" lengthAdjust="spacingAndGlyphs">DBL40010</text>
<text xml:space="preserve" x="87.20" y="287.96" font-size="4.23" font-weight="normal" text-anchor="start" fill="#1c1c1c" font-family="Liberation Sans" textLength="14.50" lengthAdjust="spacingAndGlyphs" stroke="#1c1c1c" stroke-width="0.12">DCxxxx</text>
<text xml:space="preserve" x="87.20" y="304.86" font-size="4.23" font-weight="bold" text-anchor="start" fill="#2a2a2a" font-family="Liberation Sans" textLength="14.00" lengthAdjust="spacingAndGlyphs">J1 BUS</text>
<text xml:space="preserve" x="122.24" y="304.86" font-size="4.23" font-weight="bold" text-anchor="start" fill="#2a2a2a" font-family="Liberation Sans" textLength="16.80" lengthAdjust="spacingAndGlyphs">J3 STUB</text>
<text xml:space="preserve" x="158.68" y="304.86" font-size="4.23" font-weight="bold" text-anchor="start" fill="#2a2a2a" font-family="Liberation Sans" textLength="16.80" lengthAdjust="spacingAndGlyphs">J4 STUB</text>
<text xml:space="preserve" x="195.12" y="304.86" font-size="4.23" font-weight="bold" text-anchor="start" fill="#2a2a2a" font-family="Liberation Sans" textLength="16.80" lengthAdjust="spacingAndGlyphs">J5 STUB</text>
<text xml:space="preserve" x="231.56" y="304.86" font-size="4.23" font-weight="bold" text-anchor="start" fill="#2a2a2a" font-family="Liberation Sans" textLength="16.80" lengthAdjust="spacingAndGlyphs">J6 STUB</text>
<text xml:space="preserve" x="269.40" y="304.86" font-size="4.23" font-weight="bold" text-anchor="start" fill="#2a2a2a" font-family="Liberation Sans" textLength="14.00" lengthAdjust="spacingAndGlyphs">J2 BUS</text>
<g transform="translate(94.20,313.00) scale(0.8570,0.9213)">
<rect x="-13.6" y="-0.5" width="27.2" height="2.2" fill="#1c1c1c"/>
<ellipse cx="-10.5" cy="3.0" rx="3.0" ry="1.75" fill="#fff" stroke="#1c1c1c" stroke-width="1.23"/>
<ellipse cx="0" cy="3.0" rx="6.6" ry="1.7" fill="#fff" stroke="#1c1c1c" stroke-width="1.23"/>
<ellipse cx="10.5" cy="3.0" rx="3.0" ry="1.75" fill="#fff" stroke="#1c1c1c" stroke-width="1.23"/>
<path d="M-11,4.8 L11,4.8 L9.6,7.4 L-9.6,7.4 Z" fill="#222"/>
<path d="M-10.4,6.0 L10.4,6.0" stroke="#8a8a8a" stroke-width="0.6"/>
<rect x="-8.5" y="7.4" width="16.7" height="16.5" fill="#fff" stroke="#1c1c1c" stroke-width="1.17"/>
<line x1="-1.5" y1="15.9" x2="7.6" y2="15.9" stroke="#333" stroke-width="1.1"/>
<line x1="-1.5" y1="19.8" x2="7.6" y2="19.8" stroke="#333" stroke-width="1.1"/>
<rect x="8.2" y="16.6" width="1.4" height="3.2" fill="#1c1c1c"/>
<circle cx="-4.4" cy="17.9" r="2.4" fill="#fff" stroke="#1c1c1c" stroke-width="1.7"/>
<circle cx="-4.4" cy="17.9" r="0.9" fill="#1c1c1c"/>
</g>
<g transform="translate(130.64,313.00) scale(0.8570,0.9213)">
<rect x="-13.6" y="-0.5" width="27.2" height="2.2" fill="#1c1c1c"/>
<ellipse cx="-10.5" cy="3.0" rx="3.0" ry="1.75" fill="#fff" stroke="#1c1c1c" stroke-width="1.23"/>
<ellipse cx="0" cy="3.0" rx="6.6" ry="1.7" fill="#fff" stroke="#1c1c1c" stroke-width="1.23"/>
<ellipse cx="10.5" cy="3.0" rx="3.0" ry="1.75" fill="#fff" stroke="#1c1c1c" stroke-width="1.23"/>
<path d="M-11,4.8 L11,4.8 L9.6,7.4 L-9.6,7.4 Z" fill="#222"/>
<path d="M-10.4,6.0 L10.4,6.0" stroke="#8a8a8a" stroke-width="0.6"/>
<rect x="-8.5" y="7.4" width="16.7" height="16.5" fill="#fff" stroke="#1c1c1c" stroke-width="1.17"/>
<line x1="-1.5" y1="15.9" x2="7.6" y2="15.9" stroke="#333" stroke-width="1.1"/>
<line x1="-1.5" y1="19.8" x2="7.6" y2="19.8" stroke="#333" stroke-width="1.1"/>
<rect x="8.2" y="16.6" width="1.4" height="3.2" fill="#1c1c1c"/>
<circle cx="-4.4" cy="17.9" r="2.4" fill="#fff" stroke="#1c1c1c" stroke-width="1.7"/>
<circle cx="-4.4" cy="17.9" r="0.9" fill="#1c1c1c"/>
</g>
<g transform="translate(167.08,313.00) scale(0.8570,0.9213)">
<rect x="-13.6" y="-0.5" width="27.2" height="2.2" fill="#1c1c1c"/>
<ellipse cx="-10.5" cy="3.0" rx="3.0" ry="1.75" fill="#fff" stroke="#1c1c1c" stroke-width="1.23"/>
<ellipse cx="0" cy="3.0" rx="6.6" ry="1.7" fill="#fff" stroke="#1c1c1c" stroke-width="1.23"/>
<ellipse cx="10.5" cy="3.0" rx="3.0" ry="1.75" fill="#fff" stroke="#1c1c1c" stroke-width="1.23"/>
<path d="M-11,4.8 L11,4.8 L9.6,7.4 L-9.6,7.4 Z" fill="#222"/>
<path d="M-10.4,6.0 L10.4,6.0" stroke="#8a8a8a" stroke-width="0.6"/>
<rect x="-8.5" y="7.4" width="16.7" height="16.5" fill="#fff" stroke="#1c1c1c" stroke-width="1.17"/>
<line x1="-1.5" y1="15.9" x2="7.6" y2="15.9" stroke="#333" stroke-width="1.1"/>
<line x1="-1.5" y1="19.8" x2="7.6" y2="19.8" stroke="#333" stroke-width="1.1"/>
<rect x="8.2" y="16.6" width="1.4" height="3.2" fill="#1c1c1c"/>
<circle cx="-4.4" cy="17.9" r="2.4" fill="#fff" stroke="#1c1c1c" stroke-width="1.7"/>
<circle cx="-4.4" cy="17.9" r="0.9" fill="#1c1c1c"/>
</g>
<g transform="translate(203.52,313.00) scale(0.8570,0.9213)">
<rect x="-13.6" y="-0.5" width="27.2" height="2.2" fill="#1c1c1c"/>
<ellipse cx="-10.5" cy="3.0" rx="3.0" ry="1.75" fill="#fff" stroke="#1c1c1c" stroke-width="1.23"/>
<ellipse cx="0" cy="3.0" rx="6.6" ry="1.7" fill="#fff" stroke="#1c1c1c" stroke-width="1.23"/>
<ellipse cx="10.5" cy="3.0" rx="3.0" ry="1.75" fill="#fff" stroke="#1c1c1c" stroke-width="1.23"/>
<path d="M-11,4.8 L11,4.8 L9.6,7.4 L-9.6,7.4 Z" fill="#222"/>
<path d="M-10.4,6.0 L10.4,6.0" stroke="#8a8a8a" stroke-width="0.6"/>
<rect x="-8.5" y="7.4" width="16.7" height="16.5" fill="#fff" stroke="#1c1c1c" stroke-width="1.17"/>
<line x1="-1.5" y1="15.9" x2="7.6" y2="15.9" stroke="#333" stroke-width="1.1"/>
<line x1="-1.5" y1="19.8" x2="7.6" y2="19.8" stroke="#333" stroke-width="1.1"/>
<rect x="8.2" y="16.6" width="1.4" height="3.2" fill="#1c1c1c"/>
<circle cx="-4.4" cy="17.9" r="2.4" fill="#fff" stroke="#1c1c1c" stroke-width="1.7"/>
<circle cx="-4.4" cy="17.9" r="0.9" fill="#1c1c1c"/>
</g>
<g transform="translate(239.96,313.00) scale(0.8570,0.9213)">
<rect x="-13.6" y="-0.5" width="27.2" height="2.2" fill="#1c1c1c"/>
<ellipse cx="-10.5" cy="3.0" rx="3.0" ry="1.75" fill="#fff" stroke="#1c1c1c" stroke-width="1.23"/>
<ellipse cx="0" cy="3.0" rx="6.6" ry="1.7" fill="#fff" stroke="#1c1c1c" stroke-width="1.23"/>
<ellipse cx="10.5" cy="3.0" rx="3.0" ry="1.75" fill="#fff" stroke="#1c1c1c" stroke-width="1.23"/>
<path d="M-11,4.8 L11,4.8 L9.6,7.4 L-9.6,7.4 Z" fill="#222"/>
<path d="M-10.4,6.0 L10.4,6.0" stroke="#8a8a8a" stroke-width="0.6"/>
<rect x="-8.5" y="7.4" width="16.7" height="16.5" fill="#fff" stroke="#1c1c1c" stroke-width="1.17"/>
<line x1="-1.5" y1="15.9" x2="7.6" y2="15.9" stroke="#333" stroke-width="1.1"/>
<line x1="-1.5" y1="19.8" x2="7.6" y2="19.8" stroke="#333" stroke-width="1.1"/>
<rect x="8.2" y="16.6" width="1.4" height="3.2" fill="#1c1c1c"/>
<circle cx="-4.4" cy="17.9" r="2.4" fill="#fff" stroke="#1c1c1c" stroke-width="1.7"/>
<circle cx="-4.4" cy="17.9" r="0.9" fill="#1c1c1c"/>
</g>
<g transform="translate(276.40,313.00) scale(0.8570,0.9213)">
<rect x="-13.6" y="-0.5" width="27.2" height="2.2" fill="#1c1c1c"/>
<ellipse cx="-10.5" cy="3.0" rx="3.0" ry="1.75" fill="#fff" stroke="#1c1c1c" stroke-width="1.23"/>
<ellipse cx="0" cy="3.0" rx="6.6" ry="1.7" fill="#fff" stroke="#1c1c1c" stroke-width="1.23"/>
<ellipse cx="10.5" cy="3.0" rx="3.0" ry="1.75" fill="#fff" stroke="#1c1c1c" stroke-width="1.23"/>
<path d="M-11,4.8 L11,4.8 L9.6,7.4 L-9.6,7.4 Z" fill="#222"/>
<path d="M-10.4,6.0 L10.4,6.0" stroke="#8a8a8a" stroke-width="0.6"/>
<rect x="-8.5" y="7.4" width="16.7" height="16.5" fill="#fff" stroke="#1c1c1c" stroke-width="1.17"/>
<line x1="-1.5" y1="15.9" x2="7.6" y2="15.9" stroke="#333" stroke-width="1.1"/>
<line x1="-1.5" y1="19.8" x2="7.6" y2="19.8" stroke="#333" stroke-width="1.1"/>
<rect x="8.2" y="16.6" width="1.4" height="3.2" fill="#1c1c1c"/>
<circle cx="-4.4" cy="17.9" r="2.4" fill="#fff" stroke="#1c1c1c" stroke-width="1.7"/>
<circle cx="-4.4" cy="17.9" r="0.9" fill="#1c1c1c"/>
</g>
<line x1="94.50" y1="337.00" x2="94.50" y2="353.70" stroke="#1c1c1c" stroke-width="1.0"/>
<line x1="276.50" y1="337.00" x2="276.50" y2="353.70" stroke="#1c1c1c" stroke-width="1.0"/>
<line x1="135.40" y1="349.50" x2="94.70" y2="349.50" stroke="#1c1c1c" stroke-width="1.0"/>
<path d="M94.70,349.50 L97.90,348.40 L97.90,350.60 Z" fill="#1c1c1c"/>
<line x1="235.20" y1="349.50" x2="275.90" y2="349.50" stroke="#1c1c1c" stroke-width="1.0"/>
<path d="M275.90,349.50 L272.70,348.40 L272.70,350.60 Z" fill="#1c1c1c"/>
<text xml:space="preserve" x="137.60" y="351.51" font-size="5.84" font-weight="bold" text-anchor="start" fill="#1c1c1c" font-family="Liberation Sans" textLength="36.25" lengthAdjust="spacingAndGlyphs" stroke="#1c1c1c" stroke-width="0.05">5  EQ.  SPACE</text>
<text xml:space="preserve" x="185.20" y="351.51" font-size="5.84" font-weight="bold" text-anchor="start" fill="#1c1c1c" font-family="Liberation Sans" textLength="47.80" lengthAdjust="spacingAndGlyphs" stroke="#1c1c1c" stroke-width="0.05">1.00  X  5  =  5.00</text>
<circle cx="179.67" cy="349.50" r="2.60" fill="#1c1c1c"/>
<path d="M78.50,377.50 L291.50,377.50 Q292.50,377.50 292.50,378.50 L292.50,412.50 Q292.50,413.50 291.50,413.50 L78.50,413.50 Z" fill="none" stroke="#1c1c1c" stroke-width="1.1"/>
<line x1="59.60" y1="377.50" x2="78.50" y2="377.50" stroke="#1c1c1c" stroke-width="1.0"/>
<line x1="59.60" y1="413.50" x2="78.50" y2="413.50" stroke="#1c1c1c" stroke-width="1.0"/>
<line x1="63.50" y1="391.30" x2="63.50" y2="378.00" stroke="#1c1c1c" stroke-width="0.9"/>
<path d="M63.50,378.00 L62.40,381.20 L64.60,381.20 Z" fill="#1c1c1c"/>
<line x1="63.50" y1="399.70" x2="63.50" y2="413.00" stroke="#1c1c1c" stroke-width="0.9"/>
<path d="M63.50,413.00 L62.40,409.80 L64.60,409.80 Z" fill="#1c1c1c"/>
<text xml:space="preserve" x="58.10" y="397.69" font-size="6.36" font-weight="bold" text-anchor="start" fill="#1c1c1c" font-family="Liberation Sans" textLength="11.60" lengthAdjust="spacingAndGlyphs">1.00</text>
<g transform="translate(94.20,395.40) scale(0.8571)">
<circle r="14" fill="#141414"/>
<ellipse cx="-13.2" cy="0" rx="1.3" ry="3.6" fill="#6a6a6a"/>
<ellipse cx="13.2" cy="0" rx="1.3" ry="3.6" fill="#6a6a6a"/>
<ellipse cx="0" cy="-11.6" rx="3.4" ry="1.3" fill="#555"/>
<circle r="11.2" fill="none" stroke="#5c5c5c" stroke-width="0.93" stroke-dasharray="1.17,1.28"/>
<circle r="7.3" fill="none" stroke="#4a4a4a" stroke-width="0.70" stroke-dasharray="1.05,1.40"/>
<path d="M-6.69,6.02 A9.0,9.0 0 0,1 -6.69,-6.02" stroke="#fff" stroke-width="1.52" fill="none"/>
<path d="M-3.33,-8.25 A8.9,8.9 0 0,1 8.25,-3.33" stroke="#fff" stroke-width="1.52" fill="none"/>
<path d="M8.25,3.33 A8.9,8.9 0 0,1 4.45,7.71" stroke="#fff" stroke-width="1.52" fill="none"/>
<path d="M-5.6,9.9 Q0,8.3 5.6,9.9 Q0,11.9 -5.6,9.9 Z" fill="#f4f4f4"/>
<circle r="5.9" fill="none" stroke="#fff" stroke-width="1.40"/>
<circle r="5.20" fill="#1c1c1c"/>
<circle r="3.2" fill="#262626"/>
<path d="M-2.4,-2.4 L2.4,2.4 M2.4,-2.4 L-2.4,2.4" stroke="#8a8a8a" stroke-width="0.82"/>
<circle r="1.0" fill="#222"/>
</g>
<g transform="translate(130.64,395.40) scale(0.8571)">
<circle r="14" fill="#141414"/>
<ellipse cx="-13.2" cy="0" rx="1.3" ry="3.6" fill="#6a6a6a"/>
<ellipse cx="13.2" cy="0" rx="1.3" ry="3.6" fill="#6a6a6a"/>
<ellipse cx="0" cy="-11.6" rx="3.4" ry="1.3" fill="#555"/>
<circle r="11.2" fill="none" stroke="#5c5c5c" stroke-width="0.93" stroke-dasharray="1.17,1.28"/>
<circle r="7.3" fill="none" stroke="#4a4a4a" stroke-width="0.70" stroke-dasharray="1.05,1.40"/>
<path d="M-6.69,6.02 A9.0,9.0 0 0,1 -6.69,-6.02" stroke="#fff" stroke-width="1.52" fill="none"/>
<path d="M-3.33,-8.25 A8.9,8.9 0 0,1 8.25,-3.33" stroke="#fff" stroke-width="1.52" fill="none"/>
<path d="M8.25,3.33 A8.9,8.9 0 0,1 4.45,7.71" stroke="#fff" stroke-width="1.52" fill="none"/>
<path d="M-5.6,9.9 Q0,8.3 5.6,9.9 Q0,11.9 -5.6,9.9 Z" fill="#f4f4f4"/>
<circle r="5.9" fill="none" stroke="#fff" stroke-width="1.40"/>
<circle r="5.20" fill="#1c1c1c"/>
<circle r="3.2" fill="#262626"/>
<path d="M-2.4,-2.4 L2.4,2.4 M2.4,-2.4 L-2.4,2.4" stroke="#8a8a8a" stroke-width="0.82"/>
<circle r="1.0" fill="#222"/>
</g>
<g transform="translate(167.08,395.40) scale(0.8571)">
<circle r="14" fill="#141414"/>
<ellipse cx="-13.2" cy="0" rx="1.3" ry="3.6" fill="#6a6a6a"/>
<ellipse cx="13.2" cy="0" rx="1.3" ry="3.6" fill="#6a6a6a"/>
<ellipse cx="0" cy="-11.6" rx="3.4" ry="1.3" fill="#555"/>
<circle r="11.2" fill="none" stroke="#5c5c5c" stroke-width="0.93" stroke-dasharray="1.17,1.28"/>
<circle r="7.3" fill="none" stroke="#4a4a4a" stroke-width="0.70" stroke-dasharray="1.05,1.40"/>
<path d="M-6.69,6.02 A9.0,9.0 0 0,1 -6.69,-6.02" stroke="#fff" stroke-width="1.52" fill="none"/>
<path d="M-3.33,-8.25 A8.9,8.9 0 0,1 8.25,-3.33" stroke="#fff" stroke-width="1.52" fill="none"/>
<path d="M8.25,3.33 A8.9,8.9 0 0,1 4.45,7.71" stroke="#fff" stroke-width="1.52" fill="none"/>
<path d="M-5.6,9.9 Q0,8.3 5.6,9.9 Q0,11.9 -5.6,9.9 Z" fill="#f4f4f4"/>
<circle r="5.9" fill="none" stroke="#fff" stroke-width="1.40"/>
<circle r="5.20" fill="#1c1c1c"/>
<circle r="3.2" fill="#262626"/>
<path d="M-2.4,-2.4 L2.4,2.4 M2.4,-2.4 L-2.4,2.4" stroke="#8a8a8a" stroke-width="0.82"/>
<circle r="1.0" fill="#222"/>
</g>
<g transform="translate(203.52,395.40) scale(0.8571)">
<circle r="14" fill="#141414"/>
<ellipse cx="-13.2" cy="0" rx="1.3" ry="3.6" fill="#6a6a6a"/>
<ellipse cx="13.2" cy="0" rx="1.3" ry="3.6" fill="#6a6a6a"/>
<ellipse cx="0" cy="-11.6" rx="3.4" ry="1.3" fill="#555"/>
<circle r="11.2" fill="none" stroke="#5c5c5c" stroke-width="0.93" stroke-dasharray="1.17,1.28"/>
<circle r="7.3" fill="none" stroke="#4a4a4a" stroke-width="0.70" stroke-dasharray="1.05,1.40"/>
<path d="M-6.69,6.02 A9.0,9.0 0 0,1 -6.69,-6.02" stroke="#fff" stroke-width="1.52" fill="none"/>
<path d="M-3.33,-8.25 A8.9,8.9 0 0,1 8.25,-3.33" stroke="#fff" stroke-width="1.52" fill="none"/>
<path d="M8.25,3.33 A8.9,8.9 0 0,1 4.45,7.71" stroke="#fff" stroke-width="1.52" fill="none"/>
<path d="M-5.6,9.9 Q0,8.3 5.6,9.9 Q0,11.9 -5.6,9.9 Z" fill="#f4f4f4"/>
<circle r="5.9" fill="none" stroke="#fff" stroke-width="1.40"/>
<circle r="5.20" fill="#1c1c1c"/>
<circle r="3.2" fill="#262626"/>
<path d="M-2.4,-2.4 L2.4,2.4 M2.4,-2.4 L-2.4,2.4" stroke="#8a8a8a" stroke-width="0.82"/>
<circle r="1.0" fill="#222"/>
</g>
<g transform="translate(239.96,395.40) scale(0.8571)">
<circle r="14" fill="#141414"/>
<ellipse cx="-13.2" cy="0" rx="1.3" ry="3.6" fill="#6a6a6a"/>
<ellipse cx="13.2" cy="0" rx="1.3" ry="3.6" fill="#6a6a6a"/>
<ellipse cx="0" cy="-11.6" rx="3.4" ry="1.3" fill="#555"/>
<circle r="11.2" fill="none" stroke="#5c5c5c" stroke-width="0.93" stroke-dasharray="1.17,1.28"/>
<circle r="7.3" fill="none" stroke="#4a4a4a" stroke-width="0.70" stroke-dasharray="1.05,1.40"/>
<path d="M-6.69,6.02 A9.0,9.0 0 0,1 -6.69,-6.02" stroke="#fff" stroke-width="1.52" fill="none"/>
<path d="M-3.33,-8.25 A8.9,8.9 0 0,1 8.25,-3.33" stroke="#fff" stroke-width="1.52" fill="none"/>
<path d="M8.25,3.33 A8.9,8.9 0 0,1 4.45,7.71" stroke="#fff" stroke-width="1.52" fill="none"/>
<path d="M-5.6,9.9 Q0,8.3 5.6,9.9 Q0,11.9 -5.6,9.9 Z" fill="#f4f4f4"/>
<circle r="5.9" fill="none" stroke="#fff" stroke-width="1.40"/>
<circle r="5.20" fill="#1c1c1c"/>
<circle r="3.2" fill="#262626"/>
<path d="M-2.4,-2.4 L2.4,2.4 M2.4,-2.4 L-2.4,2.4" stroke="#8a8a8a" stroke-width="0.82"/>
<circle r="1.0" fill="#222"/>
</g>
<g transform="translate(276.40,395.40) scale(0.8571)">
<circle r="14" fill="#141414"/>
<ellipse cx="-13.2" cy="0" rx="1.3" ry="3.6" fill="#6a6a6a"/>
<ellipse cx="13.2" cy="0" rx="1.3" ry="3.6" fill="#6a6a6a"/>
<ellipse cx="0" cy="-11.6" rx="3.4" ry="1.3" fill="#555"/>
<circle r="11.2" fill="none" stroke="#5c5c5c" stroke-width="0.93" stroke-dasharray="1.17,1.28"/>
<circle r="7.3" fill="none" stroke="#4a4a4a" stroke-width="0.70" stroke-dasharray="1.05,1.40"/>
<path d="M-6.69,6.02 A9.0,9.0 0 0,1 -6.69,-6.02" stroke="#fff" stroke-width="1.52" fill="none"/>
<path d="M-3.33,-8.25 A8.9,8.9 0 0,1 8.25,-3.33" stroke="#fff" stroke-width="1.52" fill="none"/>
<path d="M8.25,3.33 A8.9,8.9 0 0,1 4.45,7.71" stroke="#fff" stroke-width="1.52" fill="none"/>
<path d="M-5.6,9.9 Q0,8.3 5.6,9.9 Q0,11.9 -5.6,9.9 Z" fill="#f4f4f4"/>
<circle r="5.9" fill="none" stroke="#fff" stroke-width="1.40"/>
<circle r="5.20" fill="#1c1c1c"/>
<circle r="3.2" fill="#262626"/>
<path d="M-2.4,-2.4 L2.4,2.4 M2.4,-2.4 L-2.4,2.4" stroke="#8a8a8a" stroke-width="0.82"/>
<circle r="1.0" fill="#222"/>
</g>
<line x1="276.40" y1="395.50" x2="311.70" y2="395.50" stroke="#1c1c1c" stroke-width="1.0"/>
<line x1="294.50" y1="413.50" x2="311.70" y2="413.50" stroke="#1c1c1c" stroke-width="1.0"/>
<line x1="307.50" y1="384.40" x2="307.50" y2="395.00" stroke="#1c1c1c" stroke-width="0.9"/>
<path d="M307.50,395.00 L306.40,391.80 L308.60,391.80 Z" fill="#1c1c1c"/>
<line x1="307.50" y1="425.10" x2="307.50" y2="413.90" stroke="#1c1c1c" stroke-width="0.9"/>
<path d="M307.50,413.90 L306.40,417.10 L308.60,417.10 Z" fill="#1c1c1c"/>
<text xml:space="preserve" x="296.70" y="406.59" font-size="5.78" font-weight="normal" text-anchor="start" fill="#1c1c1c" font-family="Liberation Sans" textLength="22.30" lengthAdjust="spacingAndGlyphs" stroke="#1c1c1c" stroke-width="0.25">.50  TYP</text>
<line x1="426.50" y1="263.50" x2="426.50" y2="279.60" stroke="#1c1c1c" stroke-width="1.0"/>
<line x1="666.50" y1="263.50" x2="666.50" y2="279.60" stroke="#1c1c1c" stroke-width="1.0"/>
<line x1="539.00" y1="267.50" x2="427.10" y2="267.50" stroke="#1c1c1c" stroke-width="1.0"/>
<path d="M427.10,267.50 L430.30,266.40 L430.30,268.60 Z" fill="#1c1c1c"/>
<line x1="554.00" y1="267.50" x2="665.90" y2="267.50" stroke="#1c1c1c" stroke-width="1.0"/>
<path d="M665.90,267.50 L662.70,266.40 L662.70,268.60 Z" fill="#1c1c1c"/>
<text xml:space="preserve" x="540.80" y="269.79" font-size="6.34" font-weight="bold" text-anchor="start" fill="#1c1c1c" font-family="Liberation Sans" textLength="11.40" lengthAdjust="spacingAndGlyphs" stroke="#1c1c1c" stroke-width="0.4">6.88</text>
<path d="M426.50,279.50 L665.50,279.50 Q666.50,279.50 666.50,280.50 L666.50,313.50 Q666.50,314.50 665.50,314.50 L426.50,314.50 Z" fill="none" stroke="#1c1c1c" stroke-width="1.1"/>
<line x1="409.30" y1="279.50" x2="426.50" y2="279.50" stroke="#1c1c1c" stroke-width="1.0"/>
<line x1="409.30" y1="314.50" x2="426.50" y2="314.50" stroke="#1c1c1c" stroke-width="1.0"/>
<line x1="413.50" y1="292.80" x2="413.50" y2="280.00" stroke="#1c1c1c" stroke-width="0.9"/>
<path d="M413.50,280.00 L412.40,283.20 L414.60,283.20 Z" fill="#1c1c1c"/>
<line x1="413.50" y1="301.20" x2="413.50" y2="314.00" stroke="#1c1c1c" stroke-width="0.9"/>
<path d="M413.50,314.00 L412.40,310.80 L414.60,310.80 Z" fill="#1c1c1c"/>
<text xml:space="preserve" x="407.60" y="299.10" font-size="6.09" font-weight="bold" text-anchor="start" fill="#1c1c1c" font-family="Liberation Sans" textLength="11.40" lengthAdjust="spacingAndGlyphs">1.00</text>
<rect x="431.00" y="284.00" width="230.00" height="26.00" fill="none" stroke="#1c1c1c" stroke-width="1.59"/>
<text xml:space="preserve" x="520.05" y="289.70" font-size="4.07" font-weight="bold" text-anchor="start" fill="#2a2a2a" font-family="Liberation Sans" textLength="52.90" lengthAdjust="spacingAndGlyphs">NORTH HILLS   CAGE 64948</text>
<text xml:space="preserve" x="519.00" y="294.90" font-size="4.07" font-weight="bold" text-anchor="start" fill="#2a2a2a" font-family="Liberation Sans" textLength="55.00" lengthAdjust="spacingAndGlyphs">5-STUB DATA BUS COUPLER</text>
<text xml:space="preserve" x="537.10" y="299.30" font-size="4.07" font-weight="bold" text-anchor="start" fill="#2a2a2a" font-family="Liberation Sans" textLength="18.80" lengthAdjust="spacingAndGlyphs">DBL50010</text>
<text xml:space="preserve" x="435.45" y="289.90" font-size="4.07" font-weight="normal" text-anchor="start" fill="#1c1c1c" font-family="Liberation Sans" textLength="13.50" lengthAdjust="spacingAndGlyphs" stroke="#1c1c1c" stroke-width="0.12">DCxxxx</text>
<text xml:space="preserve" x="435.45" y="306.60" font-size="4.07" font-weight="bold" text-anchor="start" fill="#2a2a2a" font-family="Liberation Sans" textLength="13.30" lengthAdjust="spacingAndGlyphs">J1 BUS</text>
<text xml:space="preserve" x="469.08" y="306.60" font-size="4.07" font-weight="bold" text-anchor="start" fill="#2a2a2a" font-family="Liberation Sans" textLength="15.70" lengthAdjust="spacingAndGlyphs">J3 STUB</text>
<text xml:space="preserve" x="503.92" y="306.60" font-size="4.07" font-weight="bold" text-anchor="start" fill="#2a2a2a" font-family="Liberation Sans" textLength="15.70" lengthAdjust="spacingAndGlyphs">J4 STUB</text>
<text xml:space="preserve" x="538.75" y="306.60" font-size="4.07" font-weight="bold" text-anchor="start" fill="#2a2a2a" font-family="Liberation Sans" textLength="15.70" lengthAdjust="spacingAndGlyphs">J5 STUB</text>
<text xml:space="preserve" x="573.58" y="306.60" font-size="4.07" font-weight="bold" text-anchor="start" fill="#2a2a2a" font-family="Liberation Sans" textLength="15.70" lengthAdjust="spacingAndGlyphs">J6 STUB</text>
<text xml:space="preserve" x="608.42" y="306.60" font-size="4.07" font-weight="bold" text-anchor="start" fill="#2a2a2a" font-family="Liberation Sans" textLength="15.70" lengthAdjust="spacingAndGlyphs">J7 STUB</text>
<text xml:space="preserve" x="644.45" y="306.60" font-size="4.07" font-weight="bold" text-anchor="start" fill="#2a2a2a" font-family="Liberation Sans" textLength="13.30" lengthAdjust="spacingAndGlyphs">J2 BUS</text>
<g transform="translate(442.10,314.50) scale(0.8200,0.8815)">
<rect x="-13.6" y="-0.5" width="27.2" height="2.2" fill="#1c1c1c"/>
<ellipse cx="-10.5" cy="3.0" rx="3.0" ry="1.75" fill="#fff" stroke="#1c1c1c" stroke-width="1.28"/>
<ellipse cx="0" cy="3.0" rx="6.6" ry="1.7" fill="#fff" stroke="#1c1c1c" stroke-width="1.28"/>
<ellipse cx="10.5" cy="3.0" rx="3.0" ry="1.75" fill="#fff" stroke="#1c1c1c" stroke-width="1.28"/>
<path d="M-11,4.8 L11,4.8 L9.6,7.4 L-9.6,7.4 Z" fill="#222"/>
<path d="M-10.4,6.0 L10.4,6.0" stroke="#8a8a8a" stroke-width="0.6"/>
<rect x="-8.5" y="7.4" width="16.7" height="16.5" fill="#fff" stroke="#1c1c1c" stroke-width="1.22"/>
<line x1="-1.5" y1="15.9" x2="7.6" y2="15.9" stroke="#333" stroke-width="1.1"/>
<line x1="-1.5" y1="19.8" x2="7.6" y2="19.8" stroke="#333" stroke-width="1.1"/>
<rect x="8.2" y="16.6" width="1.4" height="3.2" fill="#1c1c1c"/>
<circle cx="-4.4" cy="17.9" r="2.4" fill="#fff" stroke="#1c1c1c" stroke-width="1.7"/>
<circle cx="-4.4" cy="17.9" r="0.9" fill="#1c1c1c"/>
</g>
<g transform="translate(476.93,314.50) scale(0.8200,0.8815)">
<rect x="-13.6" y="-0.5" width="27.2" height="2.2" fill="#1c1c1c"/>
<ellipse cx="-10.5" cy="3.0" rx="3.0" ry="1.75" fill="#fff" stroke="#1c1c1c" stroke-width="1.28"/>
<ellipse cx="0" cy="3.0" rx="6.6" ry="1.7" fill="#fff" stroke="#1c1c1c" stroke-width="1.28"/>
<ellipse cx="10.5" cy="3.0" rx="3.0" ry="1.75" fill="#fff" stroke="#1c1c1c" stroke-width="1.28"/>
<path d="M-11,4.8 L11,4.8 L9.6,7.4 L-9.6,7.4 Z" fill="#222"/>
<path d="M-10.4,6.0 L10.4,6.0" stroke="#8a8a8a" stroke-width="0.6"/>
<rect x="-8.5" y="7.4" width="16.7" height="16.5" fill="#fff" stroke="#1c1c1c" stroke-width="1.22"/>
<line x1="-1.5" y1="15.9" x2="7.6" y2="15.9" stroke="#333" stroke-width="1.1"/>
<line x1="-1.5" y1="19.8" x2="7.6" y2="19.8" stroke="#333" stroke-width="1.1"/>
<rect x="8.2" y="16.6" width="1.4" height="3.2" fill="#1c1c1c"/>
<circle cx="-4.4" cy="17.9" r="2.4" fill="#fff" stroke="#1c1c1c" stroke-width="1.7"/>
<circle cx="-4.4" cy="17.9" r="0.9" fill="#1c1c1c"/>
</g>
<g transform="translate(511.77,314.50) scale(0.8200,0.8815)">
<rect x="-13.6" y="-0.5" width="27.2" height="2.2" fill="#1c1c1c"/>
<ellipse cx="-10.5" cy="3.0" rx="3.0" ry="1.75" fill="#fff" stroke="#1c1c1c" stroke-width="1.28"/>
<ellipse cx="0" cy="3.0" rx="6.6" ry="1.7" fill="#fff" stroke="#1c1c1c" stroke-width="1.28"/>
<ellipse cx="10.5" cy="3.0" rx="3.0" ry="1.75" fill="#fff" stroke="#1c1c1c" stroke-width="1.28"/>
<path d="M-11,4.8 L11,4.8 L9.6,7.4 L-9.6,7.4 Z" fill="#222"/>
<path d="M-10.4,6.0 L10.4,6.0" stroke="#8a8a8a" stroke-width="0.6"/>
<rect x="-8.5" y="7.4" width="16.7" height="16.5" fill="#fff" stroke="#1c1c1c" stroke-width="1.22"/>
<line x1="-1.5" y1="15.9" x2="7.6" y2="15.9" stroke="#333" stroke-width="1.1"/>
<line x1="-1.5" y1="19.8" x2="7.6" y2="19.8" stroke="#333" stroke-width="1.1"/>
<rect x="8.2" y="16.6" width="1.4" height="3.2" fill="#1c1c1c"/>
<circle cx="-4.4" cy="17.9" r="2.4" fill="#fff" stroke="#1c1c1c" stroke-width="1.7"/>
<circle cx="-4.4" cy="17.9" r="0.9" fill="#1c1c1c"/>
</g>
<g transform="translate(546.60,314.50) scale(0.8200,0.8815)">
<rect x="-13.6" y="-0.5" width="27.2" height="2.2" fill="#1c1c1c"/>
<ellipse cx="-10.5" cy="3.0" rx="3.0" ry="1.75" fill="#fff" stroke="#1c1c1c" stroke-width="1.28"/>
<ellipse cx="0" cy="3.0" rx="6.6" ry="1.7" fill="#fff" stroke="#1c1c1c" stroke-width="1.28"/>
<ellipse cx="10.5" cy="3.0" rx="3.0" ry="1.75" fill="#fff" stroke="#1c1c1c" stroke-width="1.28"/>
<path d="M-11,4.8 L11,4.8 L9.6,7.4 L-9.6,7.4 Z" fill="#222"/>
<path d="M-10.4,6.0 L10.4,6.0" stroke="#8a8a8a" stroke-width="0.6"/>
<rect x="-8.5" y="7.4" width="16.7" height="16.5" fill="#fff" stroke="#1c1c1c" stroke-width="1.22"/>
<line x1="-1.5" y1="15.9" x2="7.6" y2="15.9" stroke="#333" stroke-width="1.1"/>
<line x1="-1.5" y1="19.8" x2="7.6" y2="19.8" stroke="#333" stroke-width="1.1"/>
<rect x="8.2" y="16.6" width="1.4" height="3.2" fill="#1c1c1c"/>
<circle cx="-4.4" cy="17.9" r="2.4" fill="#fff" stroke="#1c1c1c" stroke-width="1.7"/>
<circle cx="-4.4" cy="17.9" r="0.9" fill="#1c1c1c"/>
</g>
<g transform="translate(581.43,314.50) scale(0.8200,0.8815)">
<rect x="-13.6" y="-0.5" width="27.2" height="2.2" fill="#1c1c1c"/>
<ellipse cx="-10.5" cy="3.0" rx="3.0" ry="1.75" fill="#fff" stroke="#1c1c1c" stroke-width="1.28"/>
<ellipse cx="0" cy="3.0" rx="6.6" ry="1.7" fill="#fff" stroke="#1c1c1c" stroke-width="1.28"/>
<ellipse cx="10.5" cy="3.0" rx="3.0" ry="1.75" fill="#fff" stroke="#1c1c1c" stroke-width="1.28"/>
<path d="M-11,4.8 L11,4.8 L9.6,7.4 L-9.6,7.4 Z" fill="#222"/>
<path d="M-10.4,6.0 L10.4,6.0" stroke="#8a8a8a" stroke-width="0.6"/>
<rect x="-8.5" y="7.4" width="16.7" height="16.5" fill="#fff" stroke="#1c1c1c" stroke-width="1.22"/>
<line x1="-1.5" y1="15.9" x2="7.6" y2="15.9" stroke="#333" stroke-width="1.1"/>
<line x1="-1.5" y1="19.8" x2="7.6" y2="19.8" stroke="#333" stroke-width="1.1"/>
<rect x="8.2" y="16.6" width="1.4" height="3.2" fill="#1c1c1c"/>
<circle cx="-4.4" cy="17.9" r="2.4" fill="#fff" stroke="#1c1c1c" stroke-width="1.7"/>
<circle cx="-4.4" cy="17.9" r="0.9" fill="#1c1c1c"/>
</g>
<g transform="translate(616.27,314.50) scale(0.8200,0.8815)">
<rect x="-13.6" y="-0.5" width="27.2" height="2.2" fill="#1c1c1c"/>
<ellipse cx="-10.5" cy="3.0" rx="3.0" ry="1.75" fill="#fff" stroke="#1c1c1c" stroke-width="1.28"/>
<ellipse cx="0" cy="3.0" rx="6.6" ry="1.7" fill="#fff" stroke="#1c1c1c" stroke-width="1.28"/>
<ellipse cx="10.5" cy="3.0" rx="3.0" ry="1.75" fill="#fff" stroke="#1c1c1c" stroke-width="1.28"/>
<path d="M-11,4.8 L11,4.8 L9.6,7.4 L-9.6,7.4 Z" fill="#222"/>
<path d="M-10.4,6.0 L10.4,6.0" stroke="#8a8a8a" stroke-width="0.6"/>
<rect x="-8.5" y="7.4" width="16.7" height="16.5" fill="#fff" stroke="#1c1c1c" stroke-width="1.22"/>
<line x1="-1.5" y1="15.9" x2="7.6" y2="15.9" stroke="#333" stroke-width="1.1"/>
<line x1="-1.5" y1="19.8" x2="7.6" y2="19.8" stroke="#333" stroke-width="1.1"/>
<rect x="8.2" y="16.6" width="1.4" height="3.2" fill="#1c1c1c"/>
<circle cx="-4.4" cy="17.9" r="2.4" fill="#fff" stroke="#1c1c1c" stroke-width="1.7"/>
<circle cx="-4.4" cy="17.9" r="0.9" fill="#1c1c1c"/>
</g>
<g transform="translate(651.10,314.50) scale(0.8200,0.8815)">
<rect x="-13.6" y="-0.5" width="27.2" height="2.2" fill="#1c1c1c"/>
<ellipse cx="-10.5" cy="3.0" rx="3.0" ry="1.75" fill="#fff" stroke="#1c1c1c" stroke-width="1.28"/>
<ellipse cx="0" cy="3.0" rx="6.6" ry="1.7" fill="#fff" stroke="#1c1c1c" stroke-width="1.28"/>
<ellipse cx="10.5" cy="3.0" rx="3.0" ry="1.75" fill="#fff" stroke="#1c1c1c" stroke-width="1.28"/>
<path d="M-11,4.8 L11,4.8 L9.6,7.4 L-9.6,7.4 Z" fill="#222"/>
<path d="M-10.4,6.0 L10.4,6.0" stroke="#8a8a8a" stroke-width="0.6"/>
<rect x="-8.5" y="7.4" width="16.7" height="16.5" fill="#fff" stroke="#1c1c1c" stroke-width="1.22"/>
<line x1="-1.5" y1="15.9" x2="7.6" y2="15.9" stroke="#333" stroke-width="1.1"/>
<line x1="-1.5" y1="19.8" x2="7.6" y2="19.8" stroke="#333" stroke-width="1.1"/>
<rect x="8.2" y="16.6" width="1.4" height="3.2" fill="#1c1c1c"/>
<circle cx="-4.4" cy="17.9" r="2.4" fill="#fff" stroke="#1c1c1c" stroke-width="1.7"/>
<circle cx="-4.4" cy="17.9" r="0.9" fill="#1c1c1c"/>
</g>
<line x1="442.50" y1="337.30" x2="442.50" y2="353.70" stroke="#1c1c1c" stroke-width="1.0"/>
<line x1="651.50" y1="337.30" x2="651.50" y2="353.70" stroke="#1c1c1c" stroke-width="1.0"/>
<line x1="498.70" y1="349.50" x2="442.60" y2="349.50" stroke="#1c1c1c" stroke-width="1.0"/>
<path d="M442.60,349.50 L445.80,348.40 L445.80,350.60 Z" fill="#1c1c1c"/>
<line x1="594.20" y1="349.50" x2="650.60" y2="349.50" stroke="#1c1c1c" stroke-width="1.0"/>
<path d="M650.60,349.50 L647.40,348.40 L647.40,350.60 Z" fill="#1c1c1c"/>
<text xml:space="preserve" x="500.90" y="351.44" font-size="5.62" font-weight="bold" text-anchor="start" fill="#1c1c1c" font-family="Liberation Sans" textLength="34.62" lengthAdjust="spacingAndGlyphs" stroke="#1c1c1c" stroke-width="0.05">6  EQ.  SPACE</text>
<text xml:space="preserve" x="546.36" y="351.44" font-size="5.62" font-weight="bold" text-anchor="start" fill="#1c1c1c" font-family="Liberation Sans" textLength="45.64" lengthAdjust="spacingAndGlyphs" stroke="#1c1c1c" stroke-width="0.05">1.00  X  6  =  6.00</text>
<circle cx="541.08" cy="349.50" r="2.50" fill="#1c1c1c"/>
<path d="M426.50,375.50 L665.50,375.50 Q666.50,375.50 666.50,376.50 L666.50,409.50 Q666.50,410.50 665.50,410.50 L426.50,410.50 Z" fill="none" stroke="#1c1c1c" stroke-width="1.1"/>
<line x1="409.30" y1="375.50" x2="426.50" y2="375.50" stroke="#1c1c1c" stroke-width="1.0"/>
<line x1="409.30" y1="410.50" x2="426.50" y2="410.50" stroke="#1c1c1c" stroke-width="1.0"/>
<line x1="413.50" y1="388.80" x2="413.50" y2="376.00" stroke="#1c1c1c" stroke-width="0.9"/>
<path d="M413.50,376.00 L412.40,379.20 L414.60,379.20 Z" fill="#1c1c1c"/>
<line x1="413.50" y1="397.20" x2="413.50" y2="410.00" stroke="#1c1c1c" stroke-width="0.9"/>
<path d="M413.50,410.00 L412.40,406.80 L414.60,406.80 Z" fill="#1c1c1c"/>
<text xml:space="preserve" x="407.60" y="395.10" font-size="6.09" font-weight="bold" text-anchor="start" fill="#1c1c1c" font-family="Liberation Sans" textLength="11.40" lengthAdjust="spacingAndGlyphs">1.00</text>
<g transform="translate(442.10,393.10) scale(0.8286)">
<circle r="14" fill="#141414"/>
<ellipse cx="-13.2" cy="0" rx="1.3" ry="3.6" fill="#6a6a6a"/>
<ellipse cx="13.2" cy="0" rx="1.3" ry="3.6" fill="#6a6a6a"/>
<ellipse cx="0" cy="-11.6" rx="3.4" ry="1.3" fill="#555"/>
<circle r="11.2" fill="none" stroke="#5c5c5c" stroke-width="0.97" stroke-dasharray="1.21,1.33"/>
<circle r="7.3" fill="none" stroke="#4a4a4a" stroke-width="0.72" stroke-dasharray="1.09,1.45"/>
<path d="M-6.69,6.02 A9.0,9.0 0 0,1 -6.69,-6.02" stroke="#fff" stroke-width="1.57" fill="none"/>
<path d="M-3.33,-8.25 A8.9,8.9 0 0,1 8.25,-3.33" stroke="#fff" stroke-width="1.57" fill="none"/>
<path d="M8.25,3.33 A8.9,8.9 0 0,1 4.45,7.71" stroke="#fff" stroke-width="1.57" fill="none"/>
<path d="M-5.6,9.9 Q0,8.3 5.6,9.9 Q0,11.9 -5.6,9.9 Z" fill="#f4f4f4"/>
<circle r="5.9" fill="none" stroke="#fff" stroke-width="1.45"/>
<circle r="5.18" fill="#1c1c1c"/>
<circle r="3.2" fill="#262626"/>
<path d="M-2.4,-2.4 L2.4,2.4 M2.4,-2.4 L-2.4,2.4" stroke="#8a8a8a" stroke-width="0.84"/>
<circle r="1.0" fill="#222"/>
</g>
<g transform="translate(476.93,393.10) scale(0.8286)">
<circle r="14" fill="#141414"/>
<ellipse cx="-13.2" cy="0" rx="1.3" ry="3.6" fill="#6a6a6a"/>
<ellipse cx="13.2" cy="0" rx="1.3" ry="3.6" fill="#6a6a6a"/>
<ellipse cx="0" cy="-11.6" rx="3.4" ry="1.3" fill="#555"/>
<circle r="11.2" fill="none" stroke="#5c5c5c" stroke-width="0.97" stroke-dasharray="1.21,1.33"/>
<circle r="7.3" fill="none" stroke="#4a4a4a" stroke-width="0.72" stroke-dasharray="1.09,1.45"/>
<path d="M-6.69,6.02 A9.0,9.0 0 0,1 -6.69,-6.02" stroke="#fff" stroke-width="1.57" fill="none"/>
<path d="M-3.33,-8.25 A8.9,8.9 0 0,1 8.25,-3.33" stroke="#fff" stroke-width="1.57" fill="none"/>
<path d="M8.25,3.33 A8.9,8.9 0 0,1 4.45,7.71" stroke="#fff" stroke-width="1.57" fill="none"/>
<path d="M-5.6,9.9 Q0,8.3 5.6,9.9 Q0,11.9 -5.6,9.9 Z" fill="#f4f4f4"/>
<circle r="5.9" fill="none" stroke="#fff" stroke-width="1.45"/>
<circle r="5.18" fill="#1c1c1c"/>
<circle r="3.2" fill="#262626"/>
<path d="M-2.4,-2.4 L2.4,2.4 M2.4,-2.4 L-2.4,2.4" stroke="#8a8a8a" stroke-width="0.84"/>
<circle r="1.0" fill="#222"/>
</g>
<g transform="translate(511.77,393.10) scale(0.8286)">
<circle r="14" fill="#141414"/>
<ellipse cx="-13.2" cy="0" rx="1.3" ry="3.6" fill="#6a6a6a"/>
<ellipse cx="13.2" cy="0" rx="1.3" ry="3.6" fill="#6a6a6a"/>
<ellipse cx="0" cy="-11.6" rx="3.4" ry="1.3" fill="#555"/>
<circle r="11.2" fill="none" stroke="#5c5c5c" stroke-width="0.97" stroke-dasharray="1.21,1.33"/>
<circle r="7.3" fill="none" stroke="#4a4a4a" stroke-width="0.72" stroke-dasharray="1.09,1.45"/>
<path d="M-6.69,6.02 A9.0,9.0 0 0,1 -6.69,-6.02" stroke="#fff" stroke-width="1.57" fill="none"/>
<path d="M-3.33,-8.25 A8.9,8.9 0 0,1 8.25,-3.33" stroke="#fff" stroke-width="1.57" fill="none"/>
<path d="M8.25,3.33 A8.9,8.9 0 0,1 4.45,7.71" stroke="#fff" stroke-width="1.57" fill="none"/>
<path d="M-5.6,9.9 Q0,8.3 5.6,9.9 Q0,11.9 -5.6,9.9 Z" fill="#f4f4f4"/>
<circle r="5.9" fill="none" stroke="#fff" stroke-width="1.45"/>
<circle r="5.18" fill="#1c1c1c"/>
<circle r="3.2" fill="#262626"/>
<path d="M-2.4,-2.4 L2.4,2.4 M2.4,-2.4 L-2.4,2.4" stroke="#8a8a8a" stroke-width="0.84"/>
<circle r="1.0" fill="#222"/>
</g>
<g transform="translate(546.60,393.10) scale(0.8286)">
<circle r="14" fill="#141414"/>
<ellipse cx="-13.2" cy="0" rx="1.3" ry="3.6" fill="#6a6a6a"/>
<ellipse cx="13.2" cy="0" rx="1.3" ry="3.6" fill="#6a6a6a"/>
<ellipse cx="0" cy="-11.6" rx="3.4" ry="1.3" fill="#555"/>
<circle r="11.2" fill="none" stroke="#5c5c5c" stroke-width="0.97" stroke-dasharray="1.21,1.33"/>
<circle r="7.3" fill="none" stroke="#4a4a4a" stroke-width="0.72" stroke-dasharray="1.09,1.45"/>
<path d="M-6.69,6.02 A9.0,9.0 0 0,1 -6.69,-6.02" stroke="#fff" stroke-width="1.57" fill="none"/>
<path d="M-3.33,-8.25 A8.9,8.9 0 0,1 8.25,-3.33" stroke="#fff" stroke-width="1.57" fill="none"/>
<path d="M8.25,3.33 A8.9,8.9 0 0,1 4.45,7.71" stroke="#fff" stroke-width="1.57" fill="none"/>
<path d="M-5.6,9.9 Q0,8.3 5.6,9.9 Q0,11.9 -5.6,9.9 Z" fill="#f4f4f4"/>
<circle r="5.9" fill="none" stroke="#fff" stroke-width="1.45"/>
<circle r="5.18" fill="#1c1c1c"/>
<circle r="3.2" fill="#262626"/>
<path d="M-2.4,-2.4 L2.4,2.4 M2.4,-2.4 L-2.4,2.4" stroke="#8a8a8a" stroke-width="0.84"/>
<circle r="1.0" fill="#222"/>
</g>
<g transform="translate(581.43,393.10) scale(0.8286)">
<circle r="14" fill="#141414"/>
<ellipse cx="-13.2" cy="0" rx="1.3" ry="3.6" fill="#6a6a6a"/>
<ellipse cx="13.2" cy="0" rx="1.3" ry="3.6" fill="#6a6a6a"/>
<ellipse cx="0" cy="-11.6" rx="3.4" ry="1.3" fill="#555"/>
<circle r="11.2" fill="none" stroke="#5c5c5c" stroke-width="0.97" stroke-dasharray="1.21,1.33"/>
<circle r="7.3" fill="none" stroke="#4a4a4a" stroke-width="0.72" stroke-dasharray="1.09,1.45"/>
<path d="M-6.69,6.02 A9.0,9.0 0 0,1 -6.69,-6.02" stroke="#fff" stroke-width="1.57" fill="none"/>
<path d="M-3.33,-8.25 A8.9,8.9 0 0,1 8.25,-3.33" stroke="#fff" stroke-width="1.57" fill="none"/>
<path d="M8.25,3.33 A8.9,8.9 0 0,1 4.45,7.71" stroke="#fff" stroke-width="1.57" fill="none"/>
<path d="M-5.6,9.9 Q0,8.3 5.6,9.9 Q0,11.9 -5.6,9.9 Z" fill="#f4f4f4"/>
<circle r="5.9" fill="none" stroke="#fff" stroke-width="1.45"/>
<circle r="5.18" fill="#1c1c1c"/>
<circle r="3.2" fill="#262626"/>
<path d="M-2.4,-2.4 L2.4,2.4 M2.4,-2.4 L-2.4,2.4" stroke="#8a8a8a" stroke-width="0.84"/>
<circle r="1.0" fill="#222"/>
</g>
<g transform="translate(616.27,393.10) scale(0.8286)">
<circle r="14" fill="#141414"/>
<ellipse cx="-13.2" cy="0" rx="1.3" ry="3.6" fill="#6a6a6a"/>
<ellipse cx="13.2" cy="0" rx="1.3" ry="3.6" fill="#6a6a6a"/>
<ellipse cx="0" cy="-11.6" rx="3.4" ry="1.3" fill="#555"/>
<circle r="11.2" fill="none" stroke="#5c5c5c" stroke-width="0.97" stroke-dasharray="1.21,1.33"/>
<circle r="7.3" fill="none" stroke="#4a4a4a" stroke-width="0.72" stroke-dasharray="1.09,1.45"/>
<path d="M-6.69,6.02 A9.0,9.0 0 0,1 -6.69,-6.02" stroke="#fff" stroke-width="1.57" fill="none"/>
<path d="M-3.33,-8.25 A8.9,8.9 0 0,1 8.25,-3.33" stroke="#fff" stroke-width="1.57" fill="none"/>
<path d="M8.25,3.33 A8.9,8.9 0 0,1 4.45,7.71" stroke="#fff" stroke-width="1.57" fill="none"/>
<path d="M-5.6,9.9 Q0,8.3 5.6,9.9 Q0,11.9 -5.6,9.9 Z" fill="#f4f4f4"/>
<circle r="5.9" fill="none" stroke="#fff" stroke-width="1.45"/>
<circle r="5.18" fill="#1c1c1c"/>
<circle r="3.2" fill="#262626"/>
<path d="M-2.4,-2.4 L2.4,2.4 M2.4,-2.4 L-2.4,2.4" stroke="#8a8a8a" stroke-width="0.84"/>
<circle r="1.0" fill="#222"/>
</g>
<g transform="translate(651.10,393.10) scale(0.8286)">
<circle r="14" fill="#141414"/>
<ellipse cx="-13.2" cy="0" rx="1.3" ry="3.6" fill="#6a6a6a"/>
<ellipse cx="13.2" cy="0" rx="1.3" ry="3.6" fill="#6a6a6a"/>
<ellipse cx="0" cy="-11.6" rx="3.4" ry="1.3" fill="#555"/>
<circle r="11.2" fill="none" stroke="#5c5c5c" stroke-width="0.97" stroke-dasharray="1.21,1.33"/>
<circle r="7.3" fill="none" stroke="#4a4a4a" stroke-width="0.72" stroke-dasharray="1.09,1.45"/>
<path d="M-6.69,6.02 A9.0,9.0 0 0,1 -6.69,-6.02" stroke="#fff" stroke-width="1.57" fill="none"/>
<path d="M-3.33,-8.25 A8.9,8.9 0 0,1 8.25,-3.33" stroke="#fff" stroke-width="1.57" fill="none"/>
<path d="M8.25,3.33 A8.9,8.9 0 0,1 4.45,7.71" stroke="#fff" stroke-width="1.57" fill="none"/>
<path d="M-5.6,9.9 Q0,8.3 5.6,9.9 Q0,11.9 -5.6,9.9 Z" fill="#f4f4f4"/>
<circle r="5.9" fill="none" stroke="#fff" stroke-width="1.45"/>
<circle r="5.18" fill="#1c1c1c"/>
<circle r="3.2" fill="#262626"/>
<path d="M-2.4,-2.4 L2.4,2.4 M2.4,-2.4 L-2.4,2.4" stroke="#8a8a8a" stroke-width="0.84"/>
<circle r="1.0" fill="#222"/>
</g>
<line x1="651.10" y1="393.50" x2="685.00" y2="393.50" stroke="#1c1c1c" stroke-width="1.0"/>
<line x1="668.50" y1="410.50" x2="685.00" y2="410.50" stroke="#1c1c1c" stroke-width="1.0"/>
<line x1="680.50" y1="382.50" x2="680.50" y2="392.70" stroke="#1c1c1c" stroke-width="0.9"/>
<path d="M680.50,392.70 L679.40,389.50 L681.60,389.50 Z" fill="#1c1c1c"/>
<line x1="680.50" y1="421.30" x2="680.50" y2="410.90" stroke="#1c1c1c" stroke-width="0.9"/>
<path d="M680.50,410.90 L679.40,414.10 L681.60,414.10 Z" fill="#1c1c1c"/>
<text xml:space="preserve" x="670.30" y="404.13" font-size="5.58" font-weight="normal" text-anchor="start" fill="#1c1c1c" font-family="Liberation Sans" textLength="20.70" lengthAdjust="spacingAndGlyphs" stroke="#1c1c1c" stroke-width="0.25">.50  TYP</text>
<line x1="55.50" y1="456.10" x2="55.50" y2="470.80" stroke="#1c1c1c" stroke-width="1.0"/>
<line x1="309.50" y1="456.10" x2="309.50" y2="470.80" stroke="#1c1c1c" stroke-width="1.0"/>
<line x1="175.80" y1="459.50" x2="56.10" y2="459.50" stroke="#1c1c1c" stroke-width="1.0"/>
<path d="M56.10,459.50 L59.30,458.40 L59.30,460.60 Z" fill="#1c1c1c"/>
<line x1="190.10" y1="459.50" x2="308.90" y2="459.50" stroke="#1c1c1c" stroke-width="1.0"/>
<path d="M308.90,459.50 L305.70,458.40 L305.70,460.60 Z" fill="#1c1c1c"/>
<text xml:space="preserve" x="177.60" y="461.86" font-size="5.96" font-weight="bold" text-anchor="start" fill="#1c1c1c" font-family="Liberation Sans" textLength="10.70" lengthAdjust="spacingAndGlyphs" stroke="#1c1c1c" stroke-width="0.4">7.88</text>
<path d="M55.50,470.50 L308.50,470.50 Q309.50,470.50 309.50,471.50 L309.50,501.50 Q309.50,502.50 308.50,502.50 L55.50,502.50 Z" fill="none" stroke="#1c1c1c" stroke-width="1.1"/>
<line x1="39.30" y1="470.50" x2="55.50" y2="470.50" stroke="#1c1c1c" stroke-width="1.0"/>
<line x1="39.30" y1="502.50" x2="55.50" y2="502.50" stroke="#1c1c1c" stroke-width="1.0"/>
<line x1="43.50" y1="482.30" x2="43.50" y2="471.00" stroke="#1c1c1c" stroke-width="0.9"/>
<path d="M43.50,471.00 L42.40,474.20 L44.60,474.20 Z" fill="#1c1c1c"/>
<line x1="43.50" y1="490.70" x2="43.50" y2="502.00" stroke="#1c1c1c" stroke-width="0.9"/>
<path d="M43.50,502.00 L42.40,498.80 L44.60,498.80 Z" fill="#1c1c1c"/>
<text xml:space="preserve" x="38.05" y="488.46" font-size="5.68" font-weight="bold" text-anchor="start" fill="#1c1c1c" font-family="Liberation Sans" textLength="10.70" lengthAdjust="spacingAndGlyphs">1.00</text>
<rect x="60.00" y="475.00" width="245.00" height="23.00" fill="none" stroke="#1c1c1c" stroke-width="1.50"/>
<text xml:space="preserve" x="158.25" y="480.72" font-size="3.83" font-weight="bold" text-anchor="start" fill="#2a2a2a" font-family="Liberation Sans" textLength="48.50" lengthAdjust="spacingAndGlyphs">NORTH HILLS   CAGE 64948</text>
<text xml:space="preserve" x="156.50" y="485.72" font-size="3.83" font-weight="bold" text-anchor="start" fill="#2a2a2a" font-family="Liberation Sans" textLength="52.00" lengthAdjust="spacingAndGlyphs">6-STUB DATA BUS COUPLER</text>
<text xml:space="preserve" x="173.65" y="490.92" font-size="3.83" font-weight="bold" text-anchor="start" fill="#2a2a2a" font-family="Liberation Sans" textLength="17.70" lengthAdjust="spacingAndGlyphs">DBL60010</text>
<text xml:space="preserve" x="63.95" y="480.72" font-size="3.83" font-weight="normal" text-anchor="start" fill="#1c1c1c" font-family="Liberation Sans" textLength="12.50" lengthAdjust="spacingAndGlyphs" stroke="#1c1c1c" stroke-width="0.12">DCxxxx</text>
<text xml:space="preserve" x="63.95" y="495.72" font-size="3.83" font-weight="bold" text-anchor="start" fill="#2a2a2a" font-family="Liberation Sans" textLength="12.30" lengthAdjust="spacingAndGlyphs">J1 BUS</text>
<text xml:space="preserve" x="94.82" y="495.72" font-size="3.83" font-weight="bold" text-anchor="start" fill="#2a2a2a" font-family="Liberation Sans" textLength="15.10" lengthAdjust="spacingAndGlyphs">J3 STUB</text>
<text xml:space="preserve" x="127.09" y="495.72" font-size="3.83" font-weight="bold" text-anchor="start" fill="#2a2a2a" font-family="Liberation Sans" textLength="15.10" lengthAdjust="spacingAndGlyphs">J4 STUB</text>
<text xml:space="preserve" x="159.36" y="495.72" font-size="3.83" font-weight="bold" text-anchor="start" fill="#2a2a2a" font-family="Liberation Sans" textLength="15.10" lengthAdjust="spacingAndGlyphs">J5 STUB</text>
<text xml:space="preserve" x="191.64" y="495.72" font-size="3.83" font-weight="bold" text-anchor="start" fill="#2a2a2a" font-family="Liberation Sans" textLength="15.10" lengthAdjust="spacingAndGlyphs">J6 STUB</text>
<text xml:space="preserve" x="223.91" y="495.72" font-size="3.83" font-weight="bold" text-anchor="start" fill="#2a2a2a" font-family="Liberation Sans" textLength="15.10" lengthAdjust="spacingAndGlyphs">J7 STUB</text>
<text xml:space="preserve" x="256.18" y="495.72" font-size="3.83" font-weight="bold" text-anchor="start" fill="#2a2a2a" font-family="Liberation Sans" textLength="15.10" lengthAdjust="spacingAndGlyphs">J8 STUB</text>
<text xml:space="preserve" x="289.85" y="495.72" font-size="3.83" font-weight="bold" text-anchor="start" fill="#2a2a2a" font-family="Liberation Sans" textLength="12.30" lengthAdjust="spacingAndGlyphs">J2 BUS</text>
<g transform="translate(70.10,502.70) scale(0.7640,0.8213)">
<rect x="-13.6" y="-0.5" width="27.2" height="2.2" fill="#1c1c1c"/>
<ellipse cx="-10.5" cy="3.0" rx="3.0" ry="1.75" fill="#fff" stroke="#1c1c1c" stroke-width="1.37"/>
<ellipse cx="0" cy="3.0" rx="6.6" ry="1.7" fill="#fff" stroke="#1c1c1c" stroke-width="1.37"/>
<ellipse cx="10.5" cy="3.0" rx="3.0" ry="1.75" fill="#fff" stroke="#1c1c1c" stroke-width="1.37"/>
<path d="M-11,4.8 L11,4.8 L9.6,7.4 L-9.6,7.4 Z" fill="#222"/>
<path d="M-10.4,6.0 L10.4,6.0" stroke="#8a8a8a" stroke-width="0.6"/>
<rect x="-8.5" y="7.4" width="16.7" height="16.5" fill="#fff" stroke="#1c1c1c" stroke-width="1.31"/>
<line x1="-1.5" y1="15.9" x2="7.6" y2="15.9" stroke="#333" stroke-width="1.1"/>
<line x1="-1.5" y1="19.8" x2="7.6" y2="19.8" stroke="#333" stroke-width="1.1"/>
<rect x="8.2" y="16.6" width="1.4" height="3.2" fill="#1c1c1c"/>
<circle cx="-4.4" cy="17.9" r="2.4" fill="#fff" stroke="#1c1c1c" stroke-width="1.7"/>
<circle cx="-4.4" cy="17.9" r="0.9" fill="#1c1c1c"/>
</g>
<g transform="translate(102.37,502.70) scale(0.7640,0.8213)">
<rect x="-13.6" y="-0.5" width="27.2" height="2.2" fill="#1c1c1c"/>
<ellipse cx="-10.5" cy="3.0" rx="3.0" ry="1.75" fill="#fff" stroke="#1c1c1c" stroke-width="1.37"/>
<ellipse cx="0" cy="3.0" rx="6.6" ry="1.7" fill="#fff" stroke="#1c1c1c" stroke-width="1.37"/>
<ellipse cx="10.5" cy="3.0" rx="3.0" ry="1.75" fill="#fff" stroke="#1c1c1c" stroke-width="1.37"/>
<path d="M-11,4.8 L11,4.8 L9.6,7.4 L-9.6,7.4 Z" fill="#222"/>
<path d="M-10.4,6.0 L10.4,6.0" stroke="#8a8a8a" stroke-width="0.6"/>
<rect x="-8.5" y="7.4" width="16.7" height="16.5" fill="#fff" stroke="#1c1c1c" stroke-width="1.31"/>
<line x1="-1.5" y1="15.9" x2="7.6" y2="15.9" stroke="#333" stroke-width="1.1"/>
<line x1="-1.5" y1="19.8" x2="7.6" y2="19.8" stroke="#333" stroke-width="1.1"/>
<rect x="8.2" y="16.6" width="1.4" height="3.2" fill="#1c1c1c"/>
<circle cx="-4.4" cy="17.9" r="2.4" fill="#fff" stroke="#1c1c1c" stroke-width="1.7"/>
<circle cx="-4.4" cy="17.9" r="0.9" fill="#1c1c1c"/>
</g>
<g transform="translate(134.64,502.70) scale(0.7640,0.8213)">
<rect x="-13.6" y="-0.5" width="27.2" height="2.2" fill="#1c1c1c"/>
<ellipse cx="-10.5" cy="3.0" rx="3.0" ry="1.75" fill="#fff" stroke="#1c1c1c" stroke-width="1.37"/>
<ellipse cx="0" cy="3.0" rx="6.6" ry="1.7" fill="#fff" stroke="#1c1c1c" stroke-width="1.37"/>
<ellipse cx="10.5" cy="3.0" rx="3.0" ry="1.75" fill="#fff" stroke="#1c1c1c" stroke-width="1.37"/>
<path d="M-11,4.8 L11,4.8 L9.6,7.4 L-9.6,7.4 Z" fill="#222"/>
<path d="M-10.4,6.0 L10.4,6.0" stroke="#8a8a8a" stroke-width="0.6"/>
<rect x="-8.5" y="7.4" width="16.7" height="16.5" fill="#fff" stroke="#1c1c1c" stroke-width="1.31"/>
<line x1="-1.5" y1="15.9" x2="7.6" y2="15.9" stroke="#333" stroke-width="1.1"/>
<line x1="-1.5" y1="19.8" x2="7.6" y2="19.8" stroke="#333" stroke-width="1.1"/>
<rect x="8.2" y="16.6" width="1.4" height="3.2" fill="#1c1c1c"/>
<circle cx="-4.4" cy="17.9" r="2.4" fill="#fff" stroke="#1c1c1c" stroke-width="1.7"/>
<circle cx="-4.4" cy="17.9" r="0.9" fill="#1c1c1c"/>
</g>
<g transform="translate(166.91,502.70) scale(0.7640,0.8213)">
<rect x="-13.6" y="-0.5" width="27.2" height="2.2" fill="#1c1c1c"/>
<ellipse cx="-10.5" cy="3.0" rx="3.0" ry="1.75" fill="#fff" stroke="#1c1c1c" stroke-width="1.37"/>
<ellipse cx="0" cy="3.0" rx="6.6" ry="1.7" fill="#fff" stroke="#1c1c1c" stroke-width="1.37"/>
<ellipse cx="10.5" cy="3.0" rx="3.0" ry="1.75" fill="#fff" stroke="#1c1c1c" stroke-width="1.37"/>
<path d="M-11,4.8 L11,4.8 L9.6,7.4 L-9.6,7.4 Z" fill="#222"/>
<path d="M-10.4,6.0 L10.4,6.0" stroke="#8a8a8a" stroke-width="0.6"/>
<rect x="-8.5" y="7.4" width="16.7" height="16.5" fill="#fff" stroke="#1c1c1c" stroke-width="1.31"/>
<line x1="-1.5" y1="15.9" x2="7.6" y2="15.9" stroke="#333" stroke-width="1.1"/>
<line x1="-1.5" y1="19.8" x2="7.6" y2="19.8" stroke="#333" stroke-width="1.1"/>
<rect x="8.2" y="16.6" width="1.4" height="3.2" fill="#1c1c1c"/>
<circle cx="-4.4" cy="17.9" r="2.4" fill="#fff" stroke="#1c1c1c" stroke-width="1.7"/>
<circle cx="-4.4" cy="17.9" r="0.9" fill="#1c1c1c"/>
</g>
<g transform="translate(199.19,502.70) scale(0.7640,0.8213)">
<rect x="-13.6" y="-0.5" width="27.2" height="2.2" fill="#1c1c1c"/>
<ellipse cx="-10.5" cy="3.0" rx="3.0" ry="1.75" fill="#fff" stroke="#1c1c1c" stroke-width="1.37"/>
<ellipse cx="0" cy="3.0" rx="6.6" ry="1.7" fill="#fff" stroke="#1c1c1c" stroke-width="1.37"/>
<ellipse cx="10.5" cy="3.0" rx="3.0" ry="1.75" fill="#fff" stroke="#1c1c1c" stroke-width="1.37"/>
<path d="M-11,4.8 L11,4.8 L9.6,7.4 L-9.6,7.4 Z" fill="#222"/>
<path d="M-10.4,6.0 L10.4,6.0" stroke="#8a8a8a" stroke-width="0.6"/>
<rect x="-8.5" y="7.4" width="16.7" height="16.5" fill="#fff" stroke="#1c1c1c" stroke-width="1.31"/>
<line x1="-1.5" y1="15.9" x2="7.6" y2="15.9" stroke="#333" stroke-width="1.1"/>
<line x1="-1.5" y1="19.8" x2="7.6" y2="19.8" stroke="#333" stroke-width="1.1"/>
<rect x="8.2" y="16.6" width="1.4" height="3.2" fill="#1c1c1c"/>
<circle cx="-4.4" cy="17.9" r="2.4" fill="#fff" stroke="#1c1c1c" stroke-width="1.7"/>
<circle cx="-4.4" cy="17.9" r="0.9" fill="#1c1c1c"/>
</g>
<g transform="translate(231.46,502.70) scale(0.7640,0.8213)">
<rect x="-13.6" y="-0.5" width="27.2" height="2.2" fill="#1c1c1c"/>
<ellipse cx="-10.5" cy="3.0" rx="3.0" ry="1.75" fill="#fff" stroke="#1c1c1c" stroke-width="1.37"/>
<ellipse cx="0" cy="3.0" rx="6.6" ry="1.7" fill="#fff" stroke="#1c1c1c" stroke-width="1.37"/>
<ellipse cx="10.5" cy="3.0" rx="3.0" ry="1.75" fill="#fff" stroke="#1c1c1c" stroke-width="1.37"/>
<path d="M-11,4.8 L11,4.8 L9.6,7.4 L-9.6,7.4 Z" fill="#222"/>
<path d="M-10.4,6.0 L10.4,6.0" stroke="#8a8a8a" stroke-width="0.6"/>
<rect x="-8.5" y="7.4" width="16.7" height="16.5" fill="#fff" stroke="#1c1c1c" stroke-width="1.31"/>
<line x1="-1.5" y1="15.9" x2="7.6" y2="15.9" stroke="#333" stroke-width="1.1"/>
<line x1="-1.5" y1="19.8" x2="7.6" y2="19.8" stroke="#333" stroke-width="1.1"/>
<rect x="8.2" y="16.6" width="1.4" height="3.2" fill="#1c1c1c"/>
<circle cx="-4.4" cy="17.9" r="2.4" fill="#fff" stroke="#1c1c1c" stroke-width="1.7"/>
<circle cx="-4.4" cy="17.9" r="0.9" fill="#1c1c1c"/>
</g>
<g transform="translate(263.73,502.70) scale(0.7640,0.8213)">
<rect x="-13.6" y="-0.5" width="27.2" height="2.2" fill="#1c1c1c"/>
<ellipse cx="-10.5" cy="3.0" rx="3.0" ry="1.75" fill="#fff" stroke="#1c1c1c" stroke-width="1.37"/>
<ellipse cx="0" cy="3.0" rx="6.6" ry="1.7" fill="#fff" stroke="#1c1c1c" stroke-width="1.37"/>
<ellipse cx="10.5" cy="3.0" rx="3.0" ry="1.75" fill="#fff" stroke="#1c1c1c" stroke-width="1.37"/>
<path d="M-11,4.8 L11,4.8 L9.6,7.4 L-9.6,7.4 Z" fill="#222"/>
<path d="M-10.4,6.0 L10.4,6.0" stroke="#8a8a8a" stroke-width="0.6"/>
<rect x="-8.5" y="7.4" width="16.7" height="16.5" fill="#fff" stroke="#1c1c1c" stroke-width="1.31"/>
<line x1="-1.5" y1="15.9" x2="7.6" y2="15.9" stroke="#333" stroke-width="1.1"/>
<line x1="-1.5" y1="19.8" x2="7.6" y2="19.8" stroke="#333" stroke-width="1.1"/>
<rect x="8.2" y="16.6" width="1.4" height="3.2" fill="#1c1c1c"/>
<circle cx="-4.4" cy="17.9" r="2.4" fill="#fff" stroke="#1c1c1c" stroke-width="1.7"/>
<circle cx="-4.4" cy="17.9" r="0.9" fill="#1c1c1c"/>
</g>
<g transform="translate(296.00,502.70) scale(0.7640,0.8213)">
<rect x="-13.6" y="-0.5" width="27.2" height="2.2" fill="#1c1c1c"/>
<ellipse cx="-10.5" cy="3.0" rx="3.0" ry="1.75" fill="#fff" stroke="#1c1c1c" stroke-width="1.37"/>
<ellipse cx="0" cy="3.0" rx="6.6" ry="1.7" fill="#fff" stroke="#1c1c1c" stroke-width="1.37"/>
<ellipse cx="10.5" cy="3.0" rx="3.0" ry="1.75" fill="#fff" stroke="#1c1c1c" stroke-width="1.37"/>
<path d="M-11,4.8 L11,4.8 L9.6,7.4 L-9.6,7.4 Z" fill="#222"/>
<path d="M-10.4,6.0 L10.4,6.0" stroke="#8a8a8a" stroke-width="0.6"/>
<rect x="-8.5" y="7.4" width="16.7" height="16.5" fill="#fff" stroke="#1c1c1c" stroke-width="1.31"/>
<line x1="-1.5" y1="15.9" x2="7.6" y2="15.9" stroke="#333" stroke-width="1.1"/>
<line x1="-1.5" y1="19.8" x2="7.6" y2="19.8" stroke="#333" stroke-width="1.1"/>
<rect x="8.2" y="16.6" width="1.4" height="3.2" fill="#1c1c1c"/>
<circle cx="-4.4" cy="17.9" r="2.4" fill="#fff" stroke="#1c1c1c" stroke-width="1.7"/>
<circle cx="-4.4" cy="17.9" r="0.9" fill="#1c1c1c"/>
</g>
<line x1="70.50" y1="524.30" x2="70.50" y2="539.30" stroke="#1c1c1c" stroke-width="1.0"/>
<line x1="296.50" y1="524.30" x2="296.50" y2="539.30" stroke="#1c1c1c" stroke-width="1.0"/>
<line x1="138.60" y1="535.50" x2="70.60" y2="535.50" stroke="#1c1c1c" stroke-width="1.0"/>
<path d="M70.60,535.50 L73.80,534.40 L73.80,536.60 Z" fill="#1c1c1c"/>
<line x1="227.10" y1="535.50" x2="295.50" y2="535.50" stroke="#1c1c1c" stroke-width="1.0"/>
<path d="M295.50,535.50 L292.30,534.40 L292.30,536.60 Z" fill="#1c1c1c"/>
<text xml:space="preserve" x="140.80" y="537.33" font-size="5.30" font-weight="bold" text-anchor="start" fill="#1c1c1c" font-family="Liberation Sans" textLength="31.96" lengthAdjust="spacingAndGlyphs" stroke="#1c1c1c" stroke-width="0.05">7  EQ.  SPACE</text>
<text xml:space="preserve" x="182.77" y="537.33" font-size="5.30" font-weight="bold" text-anchor="start" fill="#1c1c1c" font-family="Liberation Sans" textLength="42.13" lengthAdjust="spacingAndGlyphs" stroke="#1c1c1c" stroke-width="0.05">1.00  X  7  =  7.00</text>
<circle cx="177.89" cy="535.50" r="2.34" fill="#1c1c1c"/>
<path d="M55.50,559.50 L308.50,559.50 Q309.50,559.50 309.50,560.50 L309.50,591.50 Q309.50,592.50 308.50,592.50 L55.50,592.50 Z" fill="none" stroke="#1c1c1c" stroke-width="1.1"/>
<line x1="39.30" y1="559.50" x2="55.50" y2="559.50" stroke="#1c1c1c" stroke-width="1.0"/>
<line x1="39.30" y1="592.50" x2="55.50" y2="592.50" stroke="#1c1c1c" stroke-width="1.0"/>
<line x1="43.50" y1="571.80" x2="43.50" y2="560.00" stroke="#1c1c1c" stroke-width="0.9"/>
<path d="M43.50,560.00 L42.40,563.20 L44.60,563.20 Z" fill="#1c1c1c"/>
<line x1="43.50" y1="580.20" x2="43.50" y2="592.00" stroke="#1c1c1c" stroke-width="0.9"/>
<path d="M43.50,592.00 L42.40,588.80 L44.60,588.80 Z" fill="#1c1c1c"/>
<text xml:space="preserve" x="38.05" y="577.96" font-size="5.68" font-weight="bold" text-anchor="start" fill="#1c1c1c" font-family="Liberation Sans" textLength="10.70" lengthAdjust="spacingAndGlyphs">1.00</text>
<g transform="translate(70.10,575.80) scale(0.7643)">
<circle r="14" fill="#141414"/>
<ellipse cx="-13.2" cy="0" rx="1.3" ry="3.6" fill="#6a6a6a"/>
<ellipse cx="13.2" cy="0" rx="1.3" ry="3.6" fill="#6a6a6a"/>
<ellipse cx="0" cy="-11.6" rx="3.4" ry="1.3" fill="#555"/>
<circle r="11.2" fill="none" stroke="#5c5c5c" stroke-width="1.05" stroke-dasharray="1.31,1.44"/>
<circle r="7.3" fill="none" stroke="#4a4a4a" stroke-width="0.79" stroke-dasharray="1.18,1.57"/>
<path d="M-6.69,6.02 A9.0,9.0 0 0,1 -6.69,-6.02" stroke="#fff" stroke-width="1.70" fill="none"/>
<path d="M-3.33,-8.25 A8.9,8.9 0 0,1 8.25,-3.33" stroke="#fff" stroke-width="1.70" fill="none"/>
<path d="M8.25,3.33 A8.9,8.9 0 0,1 4.45,7.71" stroke="#fff" stroke-width="1.70" fill="none"/>
<path d="M-5.6,9.9 Q0,8.3 5.6,9.9 Q0,11.9 -5.6,9.9 Z" fill="#f4f4f4"/>
<circle r="5.9" fill="none" stroke="#fff" stroke-width="1.57"/>
<circle r="5.11" fill="#1c1c1c"/>
<circle r="3.2" fill="#262626"/>
<path d="M-2.4,-2.4 L2.4,2.4 M2.4,-2.4 L-2.4,2.4" stroke="#8a8a8a" stroke-width="0.92"/>
<circle r="1.0" fill="#222"/>
</g>
<g transform="translate(102.37,575.80) scale(0.7643)">
<circle r="14" fill="#141414"/>
<ellipse cx="-13.2" cy="0" rx="1.3" ry="3.6" fill="#6a6a6a"/>
<ellipse cx="13.2" cy="0" rx="1.3" ry="3.6" fill="#6a6a6a"/>
<ellipse cx="0" cy="-11.6" rx="3.4" ry="1.3" fill="#555"/>
<circle r="11.2" fill="none" stroke="#5c5c5c" stroke-width="1.05" stroke-dasharray="1.31,1.44"/>
<circle r="7.3" fill="none" stroke="#4a4a4a" stroke-width="0.79" stroke-dasharray="1.18,1.57"/>
<path d="M-6.69,6.02 A9.0,9.0 0 0,1 -6.69,-6.02" stroke="#fff" stroke-width="1.70" fill="none"/>
<path d="M-3.33,-8.25 A8.9,8.9 0 0,1 8.25,-3.33" stroke="#fff" stroke-width="1.70" fill="none"/>
<path d="M8.25,3.33 A8.9,8.9 0 0,1 4.45,7.71" stroke="#fff" stroke-width="1.70" fill="none"/>
<path d="M-5.6,9.9 Q0,8.3 5.6,9.9 Q0,11.9 -5.6,9.9 Z" fill="#f4f4f4"/>
<circle r="5.9" fill="none" stroke="#fff" stroke-width="1.57"/>
<circle r="5.11" fill="#1c1c1c"/>
<circle r="3.2" fill="#262626"/>
<path d="M-2.4,-2.4 L2.4,2.4 M2.4,-2.4 L-2.4,2.4" stroke="#8a8a8a" stroke-width="0.92"/>
<circle r="1.0" fill="#222"/>
</g>
<g transform="translate(134.64,575.80) scale(0.7643)">
<circle r="14" fill="#141414"/>
<ellipse cx="-13.2" cy="0" rx="1.3" ry="3.6" fill="#6a6a6a"/>
<ellipse cx="13.2" cy="0" rx="1.3" ry="3.6" fill="#6a6a6a"/>
<ellipse cx="0" cy="-11.6" rx="3.4" ry="1.3" fill="#555"/>
<circle r="11.2" fill="none" stroke="#5c5c5c" stroke-width="1.05" stroke-dasharray="1.31,1.44"/>
<circle r="7.3" fill="none" stroke="#4a4a4a" stroke-width="0.79" stroke-dasharray="1.18,1.57"/>
<path d="M-6.69,6.02 A9.0,9.0 0 0,1 -6.69,-6.02" stroke="#fff" stroke-width="1.70" fill="none"/>
<path d="M-3.33,-8.25 A8.9,8.9 0 0,1 8.25,-3.33" stroke="#fff" stroke-width="1.70" fill="none"/>
<path d="M8.25,3.33 A8.9,8.9 0 0,1 4.45,7.71" stroke="#fff" stroke-width="1.70" fill="none"/>
<path d="M-5.6,9.9 Q0,8.3 5.6,9.9 Q0,11.9 -5.6,9.9 Z" fill="#f4f4f4"/>
<circle r="5.9" fill="none" stroke="#fff" stroke-width="1.57"/>
<circle r="5.11" fill="#1c1c1c"/>
<circle r="3.2" fill="#262626"/>
<path d="M-2.4,-2.4 L2.4,2.4 M2.4,-2.4 L-2.4,2.4" stroke="#8a8a8a" stroke-width="0.92"/>
<circle r="1.0" fill="#222"/>
</g>
<g transform="translate(166.91,575.80) scale(0.7643)">
<circle r="14" fill="#141414"/>
<ellipse cx="-13.2" cy="0" rx="1.3" ry="3.6" fill="#6a6a6a"/>
<ellipse cx="13.2" cy="0" rx="1.3" ry="3.6" fill="#6a6a6a"/>
<ellipse cx="0" cy="-11.6" rx="3.4" ry="1.3" fill="#555"/>
<circle r="11.2" fill="none" stroke="#5c5c5c" stroke-width="1.05" stroke-dasharray="1.31,1.44"/>
<circle r="7.3" fill="none" stroke="#4a4a4a" stroke-width="0.79" stroke-dasharray="1.18,1.57"/>
<path d="M-6.69,6.02 A9.0,9.0 0 0,1 -6.69,-6.02" stroke="#fff" stroke-width="1.70" fill="none"/>
<path d="M-3.33,-8.25 A8.9,8.9 0 0,1 8.25,-3.33" stroke="#fff" stroke-width="1.70" fill="none"/>
<path d="M8.25,3.33 A8.9,8.9 0 0,1 4.45,7.71" stroke="#fff" stroke-width="1.70" fill="none"/>
<path d="M-5.6,9.9 Q0,8.3 5.6,9.9 Q0,11.9 -5.6,9.9 Z" fill="#f4f4f4"/>
<circle r="5.9" fill="none" stroke="#fff" stroke-width="1.57"/>
<circle r="5.11" fill="#1c1c1c"/>
<circle r="3.2" fill="#262626"/>
<path d="M-2.4,-2.4 L2.4,2.4 M2.4,-2.4 L-2.4,2.4" stroke="#8a8a8a" stroke-width="0.92"/>
<circle r="1.0" fill="#222"/>
</g>
<g transform="translate(199.19,575.80) scale(0.7643)">
<circle r="14" fill="#141414"/>
<ellipse cx="-13.2" cy="0" rx="1.3" ry="3.6" fill="#6a6a6a"/>
<ellipse cx="13.2" cy="0" rx="1.3" ry="3.6" fill="#6a6a6a"/>
<ellipse cx="0" cy="-11.6" rx="3.4" ry="1.3" fill="#555"/>
<circle r="11.2" fill="none" stroke="#5c5c5c" stroke-width="1.05" stroke-dasharray="1.31,1.44"/>
<circle r="7.3" fill="none" stroke="#4a4a4a" stroke-width="0.79" stroke-dasharray="1.18,1.57"/>
<path d="M-6.69,6.02 A9.0,9.0 0 0,1 -6.69,-6.02" stroke="#fff" stroke-width="1.70" fill="none"/>
<path d="M-3.33,-8.25 A8.9,8.9 0 0,1 8.25,-3.33" stroke="#fff" stroke-width="1.70" fill="none"/>
<path d="M8.25,3.33 A8.9,8.9 0 0,1 4.45,7.71" stroke="#fff" stroke-width="1.70" fill="none"/>
<path d="M-5.6,9.9 Q0,8.3 5.6,9.9 Q0,11.9 -5.6,9.9 Z" fill="#f4f4f4"/>
<circle r="5.9" fill="none" stroke="#fff" stroke-width="1.57"/>
<circle r="5.11" fill="#1c1c1c"/>
<circle r="3.2" fill="#262626"/>
<path d="M-2.4,-2.4 L2.4,2.4 M2.4,-2.4 L-2.4,2.4" stroke="#8a8a8a" stroke-width="0.92"/>
<circle r="1.0" fill="#222"/>
</g>
<g transform="translate(231.46,575.80) scale(0.7643)">
<circle r="14" fill="#141414"/>
<ellipse cx="-13.2" cy="0" rx="1.3" ry="3.6" fill="#6a6a6a"/>
<ellipse cx="13.2" cy="0" rx="1.3" ry="3.6" fill="#6a6a6a"/>
<ellipse cx="0" cy="-11.6" rx="3.4" ry="1.3" fill="#555"/>
<circle r="11.2" fill="none" stroke="#5c5c5c" stroke-width="1.05" stroke-dasharray="1.31,1.44"/>
<circle r="7.3" fill="none" stroke="#4a4a4a" stroke-width="0.79" stroke-dasharray="1.18,1.57"/>
<path d="M-6.69,6.02 A9.0,9.0 0 0,1 -6.69,-6.02" stroke="#fff" stroke-width="1.70" fill="none"/>
<path d="M-3.33,-8.25 A8.9,8.9 0 0,1 8.25,-3.33" stroke="#fff" stroke-width="1.70" fill="none"/>
<path d="M8.25,3.33 A8.9,8.9 0 0,1 4.45,7.71" stroke="#fff" stroke-width="1.70" fill="none"/>
<path d="M-5.6,9.9 Q0,8.3 5.6,9.9 Q0,11.9 -5.6,9.9 Z" fill="#f4f4f4"/>
<circle r="5.9" fill="none" stroke="#fff" stroke-width="1.57"/>
<circle r="5.11" fill="#1c1c1c"/>
<circle r="3.2" fill="#262626"/>
<path d="M-2.4,-2.4 L2.4,2.4 M2.4,-2.4 L-2.4,2.4" stroke="#8a8a8a" stroke-width="0.92"/>
<circle r="1.0" fill="#222"/>
</g>
<g transform="translate(263.73,575.80) scale(0.7643)">
<circle r="14" fill="#141414"/>
<ellipse cx="-13.2" cy="0" rx="1.3" ry="3.6" fill="#6a6a6a"/>
<ellipse cx="13.2" cy="0" rx="1.3" ry="3.6" fill="#6a6a6a"/>
<ellipse cx="0" cy="-11.6" rx="3.4" ry="1.3" fill="#555"/>
<circle r="11.2" fill="none" stroke="#5c5c5c" stroke-width="1.05" stroke-dasharray="1.31,1.44"/>
<circle r="7.3" fill="none" stroke="#4a4a4a" stroke-width="0.79" stroke-dasharray="1.18,1.57"/>
<path d="M-6.69,6.02 A9.0,9.0 0 0,1 -6.69,-6.02" stroke="#fff" stroke-width="1.70" fill="none"/>
<path d="M-3.33,-8.25 A8.9,8.9 0 0,1 8.25,-3.33" stroke="#fff" stroke-width="1.70" fill="none"/>
<path d="M8.25,3.33 A8.9,8.9 0 0,1 4.45,7.71" stroke="#fff" stroke-width="1.70" fill="none"/>
<path d="M-5.6,9.9 Q0,8.3 5.6,9.9 Q0,11.9 -5.6,9.9 Z" fill="#f4f4f4"/>
<circle r="5.9" fill="none" stroke="#fff" stroke-width="1.57"/>
<circle r="5.11" fill="#1c1c1c"/>
<circle r="3.2" fill="#262626"/>
<path d="M-2.4,-2.4 L2.4,2.4 M2.4,-2.4 L-2.4,2.4" stroke="#8a8a8a" stroke-width="0.92"/>
<circle r="1.0" fill="#222"/>
</g>
<g transform="translate(296.00,575.80) scale(0.7643)">
<circle r="14" fill="#141414"/>
<ellipse cx="-13.2" cy="0" rx="1.3" ry="3.6" fill="#6a6a6a"/>
<ellipse cx="13.2" cy="0" rx="1.3" ry="3.6" fill="#6a6a6a"/>
<ellipse cx="0" cy="-11.6" rx="3.4" ry="1.3" fill="#555"/>
<circle r="11.2" fill="none" stroke="#5c5c5c" stroke-width="1.05" stroke-dasharray="1.31,1.44"/>
<circle r="7.3" fill="none" stroke="#4a4a4a" stroke-width="0.79" stroke-dasharray="1.18,1.57"/>
<path d="M-6.69,6.02 A9.0,9.0 0 0,1 -6.69,-6.02" stroke="#fff" stroke-width="1.70" fill="none"/>
<path d="M-3.33,-8.25 A8.9,8.9 0 0,1 8.25,-3.33" stroke="#fff" stroke-width="1.70" fill="none"/>
<path d="M8.25,3.33 A8.9,8.9 0 0,1 4.45,7.71" stroke="#fff" stroke-width="1.70" fill="none"/>
<path d="M-5.6,9.9 Q0,8.3 5.6,9.9 Q0,11.9 -5.6,9.9 Z" fill="#f4f4f4"/>
<circle r="5.9" fill="none" stroke="#fff" stroke-width="1.57"/>
<circle r="5.11" fill="#1c1c1c"/>
<circle r="3.2" fill="#262626"/>
<path d="M-2.4,-2.4 L2.4,2.4 M2.4,-2.4 L-2.4,2.4" stroke="#8a8a8a" stroke-width="0.92"/>
<circle r="1.0" fill="#222"/>
</g>
<line x1="296.00" y1="575.50" x2="327.00" y2="575.50" stroke="#1c1c1c" stroke-width="1.0"/>
<line x1="311.50" y1="592.50" x2="327.00" y2="592.50" stroke="#1c1c1c" stroke-width="1.0"/>
<line x1="323.50" y1="566.00" x2="323.50" y2="575.40" stroke="#1c1c1c" stroke-width="0.9"/>
<path d="M323.50,575.40 L322.40,572.20 L324.60,572.20 Z" fill="#1c1c1c"/>
<line x1="323.50" y1="601.90" x2="323.50" y2="592.90" stroke="#1c1c1c" stroke-width="0.9"/>
<path d="M323.50,592.90 L322.40,596.10 L324.60,596.10 Z" fill="#1c1c1c"/>
<text xml:space="preserve" x="313.30" y="586.03" font-size="5.29" font-weight="normal" text-anchor="start" fill="#1c1c1c" font-family="Liberation Sans" textLength="19.80" lengthAdjust="spacingAndGlyphs" stroke="#1c1c1c" stroke-width="0.25">.50  TYP</text>
<line x1="407.10" y1="469.50" x2="656.40" y2="469.50" stroke="#1c1c1c" stroke-width="1.0"/>
<path d="M656.4,469.5 Q659,470.5 661.3,475.6" fill="none" stroke="#1c1c1c" stroke-width="1"/>
<path d="M441.5,469.5 Q438.5,471 437.2,475.6" fill="none" stroke="#1c1c1c" stroke-width="1"/>
<line x1="407.10" y1="475.50" x2="418.50" y2="475.50" stroke="#1c1c1c" stroke-width="1.0"/>
<line x1="420.20" y1="475.50" x2="661.30" y2="475.50" stroke="#1c1c1c" stroke-width="1.1"/>
<line x1="420.20" y1="475.60" x2="437.00" y2="475.60" stroke="#1c1c1c" stroke-width="1.8"/>
<line x1="661.30" y1="475.60" x2="678.30" y2="475.60" stroke="#1c1c1c" stroke-width="1.8"/>
<line x1="410.50" y1="461.20" x2="410.50" y2="469.00" stroke="#1c1c1c" stroke-width="0.9"/>
<path d="M410.50,469.00 L409.60,466.40 L411.40,466.40 Z" fill="#1c1c1c"/>
<line x1="410.50" y1="484.50" x2="410.50" y2="476.30" stroke="#1c1c1c" stroke-width="0.9"/>
<path d="M410.50,476.30 L409.60,478.90 L411.40,478.90 Z" fill="#1c1c1c"/>
<text xml:space="preserve" x="407.10" y="473.95" font-size="4.20" font-weight="bold" text-anchor="start" fill="#1c1c1c" font-family="Liberation Sans" textLength="6.80" lengthAdjust="spacingAndGlyphs">.50</text>
<line x1="425.50" y1="492.10" x2="425.50" y2="517.50" stroke="#1c1c1c" stroke-width="1.0"/>
<line x1="672.50" y1="492.10" x2="672.50" y2="517.50" stroke="#1c1c1c" stroke-width="1.0"/>
<line x1="540.50" y1="495.50" x2="425.80" y2="495.50" stroke="#1c1c1c" stroke-width="1.0"/>
<path d="M425.80,495.50 L428.80,494.50 L428.80,496.50 Z" fill="#1c1c1c"/>
<line x1="557.60" y1="495.50" x2="672.00" y2="495.50" stroke="#1c1c1c" stroke-width="1.0"/>
<path d="M672.00,495.50 L669.00,494.50 L669.00,496.50 Z" fill="#1c1c1c"/>
<text xml:space="preserve" x="542.60" y="497.20" font-size="4.64" font-weight="bold" text-anchor="start" fill="#1c1c1c" font-family="Liberation Sans" textLength="13.70" lengthAdjust="spacingAndGlyphs" stroke="#1c1c1c" stroke-width="0.28">18.250</text>
<rect x="420.2" y="516.4" width="257.4" height="23.0" fill="none" stroke="#1c1c1c" stroke-width="1.1"/>
<line x1="407.10" y1="516.50" x2="420.20" y2="516.50" stroke="#1c1c1c" stroke-width="1.0"/>
<line x1="407.10" y1="539.50" x2="420.20" y2="539.50" stroke="#1c1c1c" stroke-width="1.0"/>
<line x1="410.50" y1="523.50" x2="410.50" y2="516.80" stroke="#1c1c1c" stroke-width="0.9"/>
<path d="M410.50,516.80 L409.60,519.40 L411.40,519.40 Z" fill="#1c1c1c"/>
<line x1="410.50" y1="533.00" x2="410.50" y2="539.00" stroke="#1c1c1c" stroke-width="0.9"/>
<path d="M410.50,539.00 L409.60,536.40 L411.40,536.40 Z" fill="#1c1c1c"/>
<text xml:space="preserve" x="405.70" y="530.05" font-size="4.78" font-weight="bold" text-anchor="start" fill="#1c1c1c" font-family="Liberation Sans" textLength="9.10" lengthAdjust="spacingAndGlyphs" stroke="#1c1c1c" stroke-width="0.28">1.72</text>
<path d="M436.0,516.9 L437.6,516.9 L436.8,518.2 Z" fill="#1c1c1c"/>
<path d="M436.0,538.9 L437.6,538.9 L436.8,537.6 Z" fill="#1c1c1c"/>
<path d="M659.7,516.9 L661.3,516.9 L660.5,518.2 Z" fill="#1c1c1c"/>
<path d="M659.7,538.9 L661.3,538.9 L660.5,537.6 Z" fill="#1c1c1c"/>
<rect x="422.10" y="517.20" width="6.4" height="4.2" rx="2.1" fill="#fff" stroke="#1c1c1c" stroke-width="1.0"/>
<path d="M423.50,519.30 L427.10,519.30 M425.30,517.80 L425.30,520.80" stroke="#1c1c1c" stroke-width="0.7"/>
<rect x="422.10" y="534.10" width="6.4" height="4.2" rx="2.1" fill="#fff" stroke="#1c1c1c" stroke-width="1.0"/>
<path d="M423.50,536.20 L427.10,536.20 M425.30,534.70 L425.30,537.70" stroke="#1c1c1c" stroke-width="0.7"/>
<rect x="669.30" y="517.30" width="6.4" height="4.2" rx="2.1" fill="#fff" stroke="#1c1c1c" stroke-width="1.0"/>
<path d="M670.70,519.40 L674.30,519.40 M672.50,517.90 L672.50,520.90" stroke="#1c1c1c" stroke-width="0.7"/>
<rect x="669.30" y="534.30" width="6.4" height="4.2" rx="2.1" fill="#fff" stroke="#1c1c1c" stroke-width="1.0"/>
<path d="M670.70,536.40 L674.30,536.40 M672.50,534.90 L672.50,537.90" stroke="#1c1c1c" stroke-width="0.7"/>
<path d="M428.5,517.2 L441,506.4 L443,506.4" fill="none" stroke="#1c1c1c" stroke-width="0.9"/>
<text xml:space="preserve" x="444.00" y="508.60" font-size="4.93" font-weight="bold" text-anchor="start" fill="#1c1c1c" font-family="Liberation Sans" textLength="28.40" lengthAdjust="spacingAndGlyphs" stroke="#1c1c1c" stroke-width="0.28">SEE  DETAIL  A</text>
<path d="M477,525.2 L497,506.4 L499.5,506.4" fill="none" stroke="#1c1c1c" stroke-width="0.9"/>
<text xml:space="preserve" x="500.20" y="508.60" font-size="4.93" font-weight="bold" text-anchor="start" fill="#1c1c1c" font-family="Liberation Sans" textLength="28.70" lengthAdjust="spacingAndGlyphs" stroke="#1c1c1c" stroke-width="0.28">SEE  DETAIL  B</text>
<text xml:space="preserve" x="438.00" y="521.90" font-size="4.80" font-weight="bold" text-anchor="start" fill="#1c1c1c" font-family="Liberation Sans" textLength="27.90" lengthAdjust="spacingAndGlyphs" font-style="italic" stroke="#111" stroke-width="0.45">nHs.North Hills</text>
<circle cx="447.40" cy="527.9" r="3.9" fill="#fff" stroke="#1c1c1c" stroke-width="1.0"/>
<path d="M447.40,526.5 L448.20,527.9 L447.40,529.3 L446.60,527.9 Z" fill="#1c1c1c"/>
<circle cx="460.94" cy="527.9" r="3.9" fill="#fff" stroke="#1c1c1c" stroke-width="1.0"/>
<path d="M460.94,526.5 L461.74,527.9 L460.94,529.3 L460.14,527.9 Z" fill="#1c1c1c"/>
<text xml:space="preserve" x="460.94" y="537.90" font-size="3.20" font-weight="normal" text-anchor="middle" fill="#555" font-family="Liberation Sans">2</text>
<circle cx="474.48" cy="527.9" r="3.9" fill="#fff" stroke="#1c1c1c" stroke-width="1.0"/>
<path d="M474.48,526.5 L475.28,527.9 L474.48,529.3 L473.68,527.9 Z" fill="#1c1c1c"/>
<text xml:space="preserve" x="474.48" y="537.90" font-size="3.20" font-weight="normal" text-anchor="middle" fill="#555" font-family="Liberation Sans">3</text>
<circle cx="488.02" cy="527.9" r="3.9" fill="#fff" stroke="#1c1c1c" stroke-width="1.0"/>
<path d="M488.02,526.5 L488.82,527.9 L488.02,529.3 L487.22,527.9 Z" fill="#1c1c1c"/>
<text xml:space="preserve" x="488.02" y="537.90" font-size="3.20" font-weight="normal" text-anchor="middle" fill="#555" font-family="Liberation Sans">4</text>
<circle cx="501.56" cy="527.9" r="3.9" fill="#fff" stroke="#1c1c1c" stroke-width="1.0"/>
<path d="M501.56,526.5 L502.36,527.9 L501.56,529.3 L500.76,527.9 Z" fill="#1c1c1c"/>
<text xml:space="preserve" x="501.56" y="537.90" font-size="3.20" font-weight="normal" text-anchor="middle" fill="#555" font-family="Liberation Sans">5</text>
<circle cx="515.10" cy="527.9" r="3.9" fill="#fff" stroke="#1c1c1c" stroke-width="1.0"/>
<path d="M515.10,526.5 L515.90,527.9 L515.10,529.3 L514.30,527.9 Z" fill="#1c1c1c"/>
<text xml:space="preserve" x="515.10" y="537.90" font-size="3.20" font-weight="normal" text-anchor="middle" fill="#555" font-family="Liberation Sans">6</text>
<circle cx="528.64" cy="527.9" r="3.9" fill="#fff" stroke="#1c1c1c" stroke-width="1.0"/>
<path d="M528.64,526.5 L529.44,527.9 L528.64,529.3 L527.84,527.9 Z" fill="#1c1c1c"/>
<text xml:space="preserve" x="528.64" y="537.90" font-size="3.20" font-weight="normal" text-anchor="middle" fill="#555" font-family="Liberation Sans">7</text>
<circle cx="542.18" cy="527.9" r="3.9" fill="#fff" stroke="#1c1c1c" stroke-width="1.0"/>
<path d="M542.18,526.5 L542.98,527.9 L542.18,529.3 L541.38,527.9 Z" fill="#1c1c1c"/>
<text xml:space="preserve" x="542.18" y="537.90" font-size="3.20" font-weight="normal" text-anchor="middle" fill="#555" font-family="Liberation Sans">8</text>
<circle cx="555.72" cy="527.9" r="3.9" fill="#fff" stroke="#1c1c1c" stroke-width="1.0"/>
<path d="M555.72,526.5 L556.52,527.9 L555.72,529.3 L554.92,527.9 Z" fill="#1c1c1c"/>
<text xml:space="preserve" x="555.72" y="537.90" font-size="3.20" font-weight="normal" text-anchor="middle" fill="#555" font-family="Liberation Sans">9</text>
<circle cx="569.26" cy="527.9" r="3.9" fill="#fff" stroke="#1c1c1c" stroke-width="1.0"/>
<path d="M569.26,526.5 L570.06,527.9 L569.26,529.3 L568.46,527.9 Z" fill="#1c1c1c"/>
<text xml:space="preserve" x="569.26" y="537.90" font-size="3.20" font-weight="normal" text-anchor="middle" fill="#555" font-family="Liberation Sans">10</text>
<circle cx="582.80" cy="527.9" r="3.9" fill="#fff" stroke="#1c1c1c" stroke-width="1.0"/>
<path d="M582.80,526.5 L583.60,527.9 L582.80,529.3 L582.00,527.9 Z" fill="#1c1c1c"/>
<text xml:space="preserve" x="582.80" y="537.90" font-size="3.20" font-weight="normal" text-anchor="middle" fill="#555" font-family="Liberation Sans">11</text>
<circle cx="596.34" cy="527.9" r="3.9" fill="#fff" stroke="#1c1c1c" stroke-width="1.0"/>
<path d="M596.34,526.5 L597.14,527.9 L596.34,529.3 L595.54,527.9 Z" fill="#1c1c1c"/>
<text xml:space="preserve" x="596.34" y="537.90" font-size="3.20" font-weight="normal" text-anchor="middle" fill="#555" font-family="Liberation Sans">12</text>
<circle cx="609.88" cy="527.9" r="3.9" fill="#fff" stroke="#1c1c1c" stroke-width="1.0"/>
<path d="M609.88,526.5 L610.68,527.9 L609.88,529.3 L609.08,527.9 Z" fill="#1c1c1c"/>
<text xml:space="preserve" x="609.88" y="537.90" font-size="3.20" font-weight="normal" text-anchor="middle" fill="#555" font-family="Liberation Sans">13</text>
<circle cx="623.42" cy="527.9" r="3.9" fill="#fff" stroke="#1c1c1c" stroke-width="1.0"/>
<path d="M623.42,526.5 L624.22,527.9 L623.42,529.3 L622.62,527.9 Z" fill="#1c1c1c"/>
<text xml:space="preserve" x="623.42" y="537.90" font-size="3.20" font-weight="normal" text-anchor="middle" fill="#555" font-family="Liberation Sans">14</text>
<circle cx="636.96" cy="527.9" r="3.9" fill="#fff" stroke="#1c1c1c" stroke-width="1.0"/>
<path d="M636.96,526.5 L637.76,527.9 L636.96,529.3 L636.16,527.9 Z" fill="#1c1c1c"/>
<text xml:space="preserve" x="636.96" y="537.90" font-size="3.20" font-weight="normal" text-anchor="middle" fill="#555" font-family="Liberation Sans">15</text>
<circle cx="650.50" cy="527.9" r="3.9" fill="#fff" stroke="#1c1c1c" stroke-width="1.0"/>
<path d="M650.50,526.5 L651.30,527.9 L650.50,529.3 L649.70,527.9 Z" fill="#1c1c1c"/>
<text xml:space="preserve" x="650.50" y="537.90" font-size="3.20" font-weight="normal" text-anchor="middle" fill="#555" font-family="Liberation Sans">16</text>
<path d="M665.5,524.3 Q659.5,524.2 657.6,527.6 Q657.4,530.6 661.5,531.7 L665.5,531.7 Z" fill="#1c1c1c"/>
<text xml:space="preserve" x="662.20" y="531.40" font-size="7.00" font-weight="bold" text-anchor="start" fill="#1c1c1c" font-family="Liberation Sans" textLength="13.60" lengthAdjust="spacingAndGlyphs" font-style="italic" stroke="#111" stroke-width="0.6">DDC</text>
<path d="M663.6,528.0 L675.8,528.0" stroke="#fff" stroke-width="0.5"/>
<line x1="675.60" y1="519.50" x2="691.10" y2="519.50" stroke="#1c1c1c" stroke-width="1.0"/>
<line x1="675.60" y1="536.50" x2="691.10" y2="536.50" stroke="#1c1c1c" stroke-width="1.0"/>
<line x1="687.50" y1="511.10" x2="687.50" y2="519.00" stroke="#1c1c1c" stroke-width="0.9"/>
<path d="M687.50,519.00 L686.60,516.40 L688.40,516.40 Z" fill="#1c1c1c"/>
<line x1="687.50" y1="544.70" x2="687.50" y2="536.80" stroke="#1c1c1c" stroke-width="0.9"/>
<path d="M687.50,536.80 L686.60,539.40 L688.40,539.40 Z" fill="#1c1c1c"/>
<text xml:space="preserve" x="682.40" y="529.45" font-size="4.78" font-weight="bold" text-anchor="start" fill="#1c1c1c" font-family="Liberation Sans" textLength="11.30" lengthAdjust="spacingAndGlyphs" stroke="#1c1c1c" stroke-width="0.28">1.250</text>
<line x1="420.50" y1="539.40" x2="420.50" y2="562.90" stroke="#1c1c1c" stroke-width="1.0"/>
<line x1="677.50" y1="539.40" x2="677.50" y2="562.90" stroke="#1c1c1c" stroke-width="1.0"/>
<line x1="447.50" y1="528.50" x2="447.50" y2="553.40" stroke="#1c1c1c" stroke-width="1.0"/>
<line x1="650.50" y1="531.90" x2="650.50" y2="553.40" stroke="#1c1c1c" stroke-width="1.0"/>
<line x1="428.00" y1="550.50" x2="420.90" y2="550.50" stroke="#1c1c1c" stroke-width="0.9"/>
<path d="M420.90,550.50 L423.50,549.60 L423.50,551.40 Z" fill="#1c1c1c"/>
<line x1="439.60" y1="550.50" x2="447.00" y2="550.50" stroke="#1c1c1c" stroke-width="0.9"/>
<path d="M447.00,550.50 L444.40,549.60 L444.40,551.40 Z" fill="#1c1c1c"/>
<text xml:space="preserve" x="429.40" y="552.10" font-size="4.64" font-weight="bold" text-anchor="start" fill="#1c1c1c" font-family="Liberation Sans" textLength="9.10" lengthAdjust="spacingAndGlyphs" stroke="#1c1c1c" stroke-width="0.28">2.00</text>
<line x1="507.80" y1="550.50" x2="447.90" y2="550.50" stroke="#1c1c1c" stroke-width="0.9"/>
<path d="M447.90,550.50 L450.50,549.60 L450.50,551.40 Z" fill="#1c1c1c"/>
<line x1="590.50" y1="550.50" x2="650.00" y2="550.50" stroke="#1c1c1c" stroke-width="0.9"/>
<path d="M650.00,550.50 L647.40,549.60 L647.40,551.40 Z" fill="#1c1c1c"/>
<text xml:space="preserve" x="509.80" y="552.20" font-size="5.22" font-weight="bold" text-anchor="start" fill="#1c1c1c" font-family="Liberation Sans" textLength="79.20" lengthAdjust="spacingAndGlyphs" stroke="#1c1c1c" stroke-width="0.25">15  EQ  SPACES  ●  1.00  X  15  =  15.00</text>
<line x1="541.50" y1="560.50" x2="420.90" y2="560.50" stroke="#1c1c1c" stroke-width="0.9"/>
<path d="M420.90,560.50 L423.50,559.60 L423.50,561.40 Z" fill="#1c1c1c"/>
<line x1="556.50" y1="560.50" x2="677.10" y2="560.50" stroke="#1c1c1c" stroke-width="0.9"/>
<path d="M677.10,560.50 L674.50,559.60 L674.50,561.40 Z" fill="#1c1c1c"/>
<text xml:space="preserve" x="543.10" y="561.70" font-size="4.64" font-weight="bold" text-anchor="start" fill="#1c1c1c" font-family="Liberation Sans" textLength="12.00" lengthAdjust="spacingAndGlyphs" stroke="#1c1c1c" stroke-width="0.28">19.00</text>
<rect x="506.6" y="572.6" width="13.1" height="7.4" rx="3.7" fill="#fff" stroke="#1c1c1c" stroke-width="1.2"/>
<path d="M510.2,576.3 L516.2,576.3 M513.2,573.3 L513.2,579.3" stroke="#1c1c1c" stroke-width="0.8"/>
<line x1="490.20" y1="572.50" x2="508.00" y2="572.50" stroke="#1c1c1c" stroke-width="1.0"/>
<line x1="490.20" y1="580.50" x2="508.00" y2="580.50" stroke="#1c1c1c" stroke-width="1.0"/>
<line x1="494.50" y1="563.00" x2="494.50" y2="572.30" stroke="#1c1c1c" stroke-width="0.9"/>
<path d="M494.50,572.30 L493.60,569.70 L495.40,569.70 Z" fill="#1c1c1c"/>
<line x1="494.50" y1="589.30" x2="494.50" y2="580.30" stroke="#1c1c1c" stroke-width="0.9"/>
<path d="M494.50,580.30 L493.60,582.90 L495.40,582.90 Z" fill="#1c1c1c"/>
<text xml:space="preserve" x="489.00" y="577.80" font-size="4.64" font-weight="bold" text-anchor="start" fill="#1c1c1c" font-family="Liberation Sans" textLength="10.30" lengthAdjust="spacingAndGlyphs" stroke="#1c1c1c" stroke-width="0.28">.250</text>
<line x1="506.50" y1="577.00" x2="506.50" y2="594.60" stroke="#1c1c1c" stroke-width="1.0"/>
<line x1="519.50" y1="577.00" x2="519.50" y2="594.60" stroke="#1c1c1c" stroke-width="1.0"/>
<line x1="497.20" y1="591.50" x2="506.00" y2="591.50" stroke="#1c1c1c" stroke-width="0.9"/>
<path d="M506.00,591.50 L503.40,590.60 L503.40,592.40 Z" fill="#1c1c1c"/>
<line x1="528.90" y1="591.50" x2="520.10" y2="591.50" stroke="#1c1c1c" stroke-width="0.9"/>
<path d="M520.10,591.50 L522.70,590.60 L522.70,592.40 Z" fill="#1c1c1c"/>
<text xml:space="preserve" x="508.40" y="592.90" font-size="4.64" font-weight="bold" text-anchor="start" fill="#1c1c1c" font-family="Liberation Sans" textLength="9.60" lengthAdjust="spacingAndGlyphs" stroke="#1c1c1c" stroke-width="0.28">.453</text>
<path d="M519.2,573.6 L526.7,566.4 L530,566.4" fill="none" stroke="#1c1c1c" stroke-width="0.9"/>
<text xml:space="preserve" x="530.50" y="568.00" font-size="4.64" font-weight="bold" text-anchor="start" fill="#1c1c1c" font-family="Liberation Sans" textLength="15.90" lengthAdjust="spacingAndGlyphs" stroke="#1c1c1c" stroke-width="0.28">FULL  R.</text>
<text xml:space="preserve" x="503.00" y="604.35" font-size="4.49" font-weight="bold" text-anchor="start" fill="#1c1c1c" font-family="Liberation Sans" textLength="21.00" lengthAdjust="spacingAndGlyphs" stroke="#1c1c1c" stroke-width="0.28">DETAIL  A</text>
<text xml:space="preserve" x="502.10" y="610.05" font-size="4.49" font-weight="bold" text-anchor="start" fill="#1c1c1c" font-family="Liberation Sans" textLength="22.50" lengthAdjust="spacingAndGlyphs" stroke="#1c1c1c" stroke-width="0.28">4  PLACES</text>
<circle cx="582.5" cy="576.2" r="8.6" fill="#fff" stroke="#1c1c1c" stroke-width="1.2"/>
<path d="M579.5,576.2 L585.5,576.2 M582.5,573.2 L582.5,579.2" stroke="#1c1c1c" stroke-width="0.8"/>
<line x1="573.50" y1="577.00" x2="573.50" y2="594.60" stroke="#1c1c1c" stroke-width="1.0"/>
<line x1="591.50" y1="577.00" x2="591.50" y2="594.60" stroke="#1c1c1c" stroke-width="1.0"/>
<line x1="564.90" y1="591.50" x2="573.50" y2="591.50" stroke="#1c1c1c" stroke-width="0.9"/>
<path d="M573.50,591.50 L570.90,590.60 L570.90,592.40 Z" fill="#1c1c1c"/>
<line x1="600.20" y1="591.50" x2="591.50" y2="591.50" stroke="#1c1c1c" stroke-width="0.9"/>
<path d="M591.50,591.50 L594.10,590.60 L594.10,592.40 Z" fill="#1c1c1c"/>
<text xml:space="preserve" x="575.90" y="592.90" font-size="4.64" font-weight="bold" text-anchor="start" fill="#1c1c1c" font-family="Liberation Sans" textLength="13.10" lengthAdjust="spacingAndGlyphs" stroke="#1c1c1c" stroke-width="0.28">ø.563</text>
<text xml:space="preserve" x="572.10" y="604.35" font-size="4.49" font-weight="bold" text-anchor="start" fill="#1c1c1c" font-family="Liberation Sans" textLength="21.00" lengthAdjust="spacingAndGlyphs" stroke="#1c1c1c" stroke-width="0.28">DETAIL  B</text>
<text xml:space="preserve" x="569.80" y="610.05" font-size="4.49" font-weight="bold" text-anchor="start" fill="#1c1c1c" font-family="Liberation Sans" textLength="25.30" lengthAdjust="spacingAndGlyphs" stroke="#1c1c1c" stroke-width="0.28">16  PLACES</text>
</svg>
</body></html>
